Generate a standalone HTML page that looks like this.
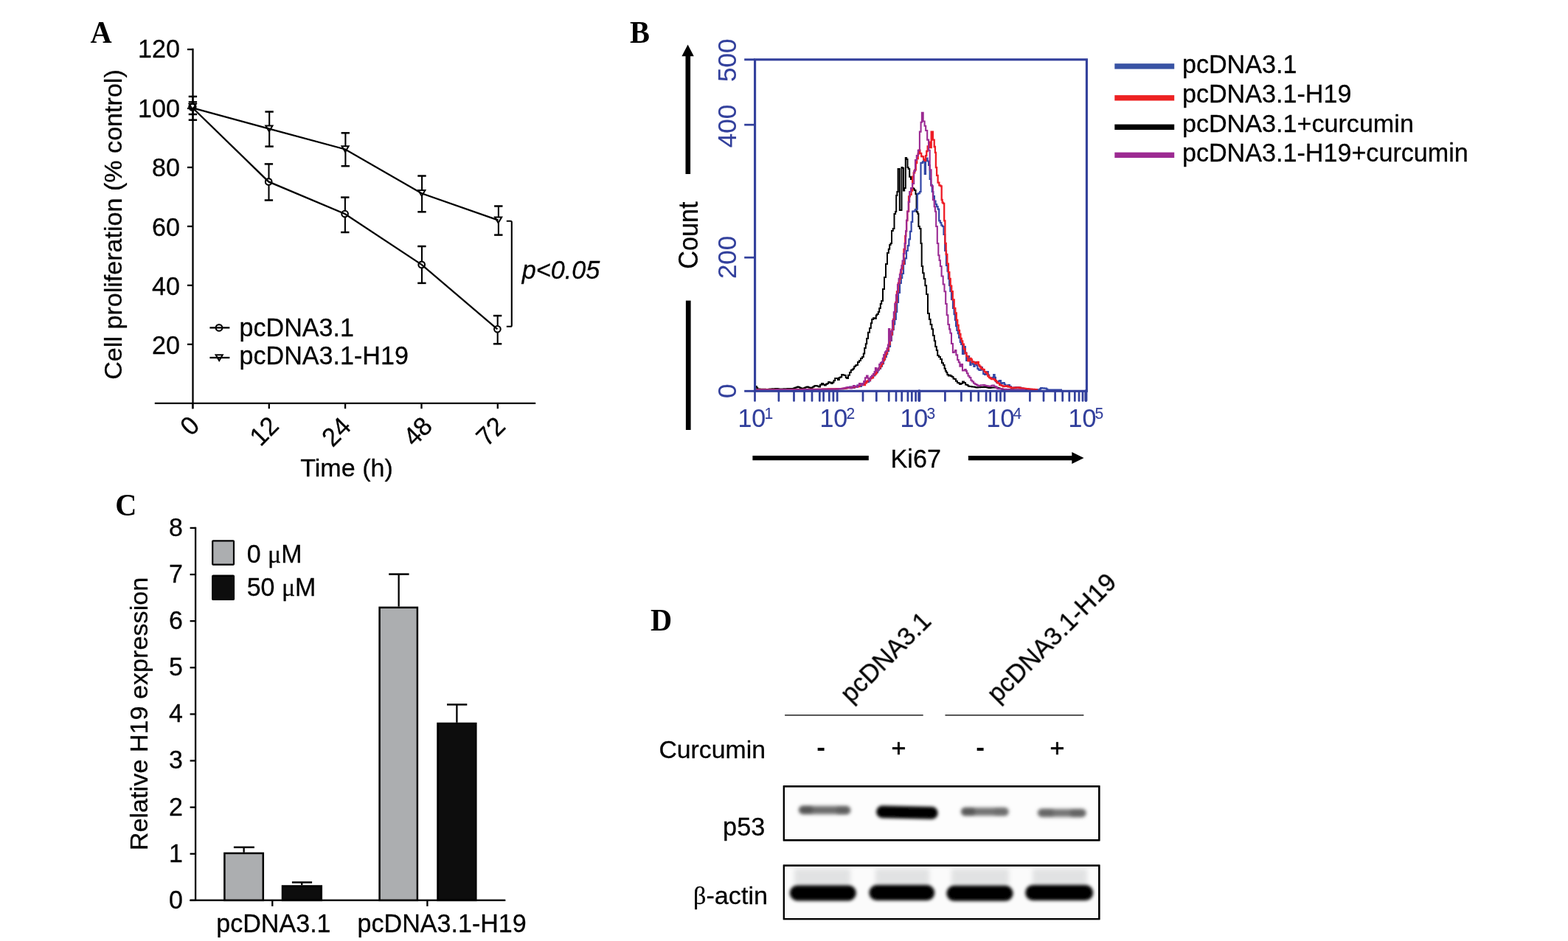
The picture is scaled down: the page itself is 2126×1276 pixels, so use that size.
<!DOCTYPE html>
<html lang="en">
<head>
<meta charset="utf-8">
<title>Figure: H19 and curcumin</title>
<style>
html,body{margin:0;padding:0;background:#fff;}
body{width:2126px;height:1276px;overflow:hidden;}
svg{display:block;}
text{white-space:pre;}
</style>
</head>
<body>
<svg width="2126" height="1276" viewBox="0 0 2126 1276">
<defs><filter id="soft" filterUnits="userSpaceOnUse" x="0" y="0" width="2126" height="1276"><feGaussianBlur stdDeviation="0.42"/></filter></defs>
<rect x="0" y="0" width="2126" height="1276" fill="#fff"/>
<g filter="url(#soft)">
<text transform="translate(122.40 58.00) scale(0.9500 1.0000)" font-family="'Liberation Serif', 'Times New Roman', Times, serif" font-size="42.5" font-weight="bold" font-style="normal" text-anchor="start" fill="#000">A</text>
<line x1="261.50" y1="65.85" x2="261.50" y2="554.20" stroke="#000" stroke-width="2.3" stroke-linecap="butt"/>
<line x1="209.80" y1="546.90" x2="726.20" y2="546.90" stroke="#000" stroke-width="2.3" stroke-linecap="butt"/>
<line x1="254.00" y1="67.00" x2="261.50" y2="67.00" stroke="#000" stroke-width="2.3" stroke-linecap="butt"/>
<text transform="translate(243.90 78.30) scale(1.0000 1.0350)" font-family="'Liberation Sans', Arial, Helvetica, sans-serif" font-size="34.1" font-weight="normal" font-style="normal" text-anchor="end" fill="#000" stroke="#000" stroke-width="0.28" stroke-linejoin="round">120</text>
<line x1="254.00" y1="146.98" x2="261.50" y2="146.98" stroke="#000" stroke-width="2.3" stroke-linecap="butt"/>
<text transform="translate(243.90 158.70) scale(1.0000 1.0350)" font-family="'Liberation Sans', Arial, Helvetica, sans-serif" font-size="34.1" font-weight="normal" font-style="normal" text-anchor="end" fill="#000" stroke="#000" stroke-width="0.28" stroke-linejoin="round">100</text>
<line x1="254.00" y1="226.97" x2="261.50" y2="226.97" stroke="#000" stroke-width="2.3" stroke-linecap="butt"/>
<text transform="translate(243.90 239.10) scale(1.0000 1.0350)" font-family="'Liberation Sans', Arial, Helvetica, sans-serif" font-size="34.1" font-weight="normal" font-style="normal" text-anchor="end" fill="#000" stroke="#000" stroke-width="0.28" stroke-linejoin="round">80</text>
<line x1="254.00" y1="306.95" x2="261.50" y2="306.95" stroke="#000" stroke-width="2.3" stroke-linecap="butt"/>
<text transform="translate(243.90 319.50) scale(1.0000 1.0350)" font-family="'Liberation Sans', Arial, Helvetica, sans-serif" font-size="34.1" font-weight="normal" font-style="normal" text-anchor="end" fill="#000" stroke="#000" stroke-width="0.28" stroke-linejoin="round">60</text>
<line x1="254.00" y1="386.93" x2="261.50" y2="386.93" stroke="#000" stroke-width="2.3" stroke-linecap="butt"/>
<text transform="translate(243.90 399.90) scale(1.0000 1.0350)" font-family="'Liberation Sans', Arial, Helvetica, sans-serif" font-size="34.1" font-weight="normal" font-style="normal" text-anchor="end" fill="#000" stroke="#000" stroke-width="0.28" stroke-linejoin="round">40</text>
<line x1="254.00" y1="466.92" x2="261.50" y2="466.92" stroke="#000" stroke-width="2.3" stroke-linecap="butt"/>
<text transform="translate(243.90 480.30) scale(1.0000 1.0350)" font-family="'Liberation Sans', Arial, Helvetica, sans-serif" font-size="34.1" font-weight="normal" font-style="normal" text-anchor="end" fill="#000" stroke="#000" stroke-width="0.28" stroke-linejoin="round">20</text>
<line x1="261.20" y1="546.90" x2="261.20" y2="554.20" stroke="#000" stroke-width="2.3" stroke-linecap="butt"/>
<text transform="translate(272.50 579.00) rotate(-45) scale(1.0000 1.0350)" font-family="'Liberation Sans', Arial, Helvetica, sans-serif" font-size="34.1" font-weight="normal" font-style="normal" text-anchor="end" fill="#000" stroke="#000" stroke-width="0.28" stroke-linejoin="round">0</text>
<line x1="364.80" y1="546.90" x2="364.80" y2="554.20" stroke="#000" stroke-width="2.3" stroke-linecap="butt"/>
<text transform="translate(380.00 579.70) rotate(-45) scale(1.0000 1.0350)" font-family="'Liberation Sans', Arial, Helvetica, sans-serif" font-size="34.1" font-weight="normal" font-style="normal" text-anchor="end" fill="#000" stroke="#000" stroke-width="0.28" stroke-linejoin="round">12</text>
<line x1="468.10" y1="546.90" x2="468.10" y2="554.20" stroke="#000" stroke-width="2.3" stroke-linecap="butt"/>
<text transform="translate(477.80 580.70) rotate(-45) scale(1.0000 1.0350)" font-family="'Liberation Sans', Arial, Helvetica, sans-serif" font-size="34.1" font-weight="normal" font-style="normal" text-anchor="end" fill="#000" stroke="#000" stroke-width="0.28" stroke-linejoin="round">24</text>
<line x1="571.50" y1="546.90" x2="571.50" y2="554.20" stroke="#000" stroke-width="2.3" stroke-linecap="butt"/>
<text transform="translate(588.20 580.00) rotate(-45) scale(1.0000 1.0350)" font-family="'Liberation Sans', Arial, Helvetica, sans-serif" font-size="34.1" font-weight="normal" font-style="normal" text-anchor="end" fill="#000" stroke="#000" stroke-width="0.28" stroke-linejoin="round">48</text>
<line x1="674.80" y1="546.90" x2="674.80" y2="554.20" stroke="#000" stroke-width="2.3" stroke-linecap="butt"/>
<text transform="translate(687.10 580.00) rotate(-45) scale(1.0000 1.0350)" font-family="'Liberation Sans', Arial, Helvetica, sans-serif" font-size="34.1" font-weight="normal" font-style="normal" text-anchor="end" fill="#000" stroke="#000" stroke-width="0.28" stroke-linejoin="round">72</text>
<text transform="translate(164.90 304.50) rotate(-90) scale(1.0000 0.9775)" font-family="'Liberation Sans', Arial, Helvetica, sans-serif" font-size="34.1" font-weight="normal" font-style="normal" text-anchor="middle" fill="#000" stroke="#000" stroke-width="0.28" stroke-linejoin="round">Cell proliferation (% control)</text>
<text transform="translate(407.22 645.70) scale(1.0000 0.9870)" font-family="'Liberation Sans', Arial, Helvetica, sans-serif" font-size="34.1" font-weight="normal" font-style="normal" text-anchor="start" fill="#000" stroke="#000" stroke-width="0.28" stroke-linejoin="round">Time (h)</text>
<line x1="261.50" y1="130.90" x2="261.50" y2="162.70" stroke="#000" stroke-width="2.1" stroke-linecap="butt"/>
<line x1="255.70" y1="130.90" x2="267.10" y2="130.90" stroke="#000" stroke-width="2.5" stroke-linecap="butt"/>
<line x1="255.70" y1="162.70" x2="267.10" y2="162.70" stroke="#000" stroke-width="2.5" stroke-linecap="butt"/>
<line x1="364.50" y1="222.40" x2="364.50" y2="271.50" stroke="#000" stroke-width="2.1" stroke-linecap="butt"/>
<line x1="358.70" y1="222.40" x2="370.10" y2="222.40" stroke="#000" stroke-width="2.5" stroke-linecap="butt"/>
<line x1="358.70" y1="271.50" x2="370.10" y2="271.50" stroke="#000" stroke-width="2.5" stroke-linecap="butt"/>
<line x1="467.90" y1="267.60" x2="467.90" y2="315.00" stroke="#000" stroke-width="2.1" stroke-linecap="butt"/>
<line x1="462.10" y1="267.60" x2="473.50" y2="267.60" stroke="#000" stroke-width="2.5" stroke-linecap="butt"/>
<line x1="462.10" y1="315.00" x2="473.50" y2="315.00" stroke="#000" stroke-width="2.5" stroke-linecap="butt"/>
<line x1="572.00" y1="334.00" x2="572.00" y2="383.90" stroke="#000" stroke-width="2.1" stroke-linecap="butt"/>
<line x1="566.20" y1="334.00" x2="577.60" y2="334.00" stroke="#000" stroke-width="2.5" stroke-linecap="butt"/>
<line x1="566.20" y1="383.90" x2="577.60" y2="383.90" stroke="#000" stroke-width="2.5" stroke-linecap="butt"/>
<line x1="674.70" y1="428.10" x2="674.70" y2="466.30" stroke="#000" stroke-width="2.1" stroke-linecap="butt"/>
<line x1="668.90" y1="428.10" x2="680.30" y2="428.10" stroke="#000" stroke-width="2.5" stroke-linecap="butt"/>
<line x1="668.90" y1="466.30" x2="680.30" y2="466.30" stroke="#000" stroke-width="2.5" stroke-linecap="butt"/>
<line x1="261.50" y1="138.40" x2="261.50" y2="155.00" stroke="#000" stroke-width="2.1" stroke-linecap="butt"/>
<line x1="255.70" y1="138.40" x2="267.10" y2="138.40" stroke="#000" stroke-width="2.5" stroke-linecap="butt"/>
<line x1="255.70" y1="155.00" x2="267.10" y2="155.00" stroke="#000" stroke-width="2.5" stroke-linecap="butt"/>
<line x1="365.20" y1="151.50" x2="365.20" y2="198.60" stroke="#000" stroke-width="2.1" stroke-linecap="butt"/>
<line x1="359.40" y1="151.50" x2="370.80" y2="151.50" stroke="#000" stroke-width="2.5" stroke-linecap="butt"/>
<line x1="359.40" y1="198.60" x2="370.80" y2="198.60" stroke="#000" stroke-width="2.5" stroke-linecap="butt"/>
<line x1="468.40" y1="180.30" x2="468.40" y2="225.20" stroke="#000" stroke-width="2.1" stroke-linecap="butt"/>
<line x1="462.60" y1="180.30" x2="474.00" y2="180.30" stroke="#000" stroke-width="2.5" stroke-linecap="butt"/>
<line x1="462.60" y1="225.20" x2="474.00" y2="225.20" stroke="#000" stroke-width="2.5" stroke-linecap="butt"/>
<line x1="572.10" y1="238.50" x2="572.10" y2="287.30" stroke="#000" stroke-width="2.1" stroke-linecap="butt"/>
<line x1="566.30" y1="238.50" x2="577.70" y2="238.50" stroke="#000" stroke-width="2.5" stroke-linecap="butt"/>
<line x1="566.30" y1="287.30" x2="577.70" y2="287.30" stroke="#000" stroke-width="2.5" stroke-linecap="butt"/>
<line x1="675.90" y1="279.50" x2="675.90" y2="318.60" stroke="#000" stroke-width="2.1" stroke-linecap="butt"/>
<line x1="670.10" y1="279.50" x2="681.50" y2="279.50" stroke="#000" stroke-width="2.5" stroke-linecap="butt"/>
<line x1="670.10" y1="318.60" x2="681.50" y2="318.60" stroke="#000" stroke-width="2.5" stroke-linecap="butt"/>
<path d="M256.6 140.9 L265.8 140.9 L261.2 148.7 Z" fill="#fff" stroke="#000" stroke-width="2" stroke-linejoin="miter"/>
<path d="M360.3 170.4 L369.5 170.4 L364.9 178.2 Z" fill="#fff" stroke="#000" stroke-width="2" stroke-linejoin="miter"/>
<path d="M463.5 198.3 L472.7 198.3 L468.1 206.1 Z" fill="#fff" stroke="#000" stroke-width="2" stroke-linejoin="miter"/>
<path d="M567.2 258.1 L576.4 258.1 L571.8 265.9 Z" fill="#fff" stroke="#000" stroke-width="2" stroke-linejoin="miter"/>
<path d="M671.0 294.4 L680.2 294.4 L675.6 302.2 Z" fill="#fff" stroke="#000" stroke-width="2" stroke-linejoin="miter"/>
<circle cx="260.9" cy="145.1" r="4.4" fill="none" stroke="#000" stroke-width="2.6"/>
<circle cx="364.2" cy="246.4" r="4.3" fill="#fff" stroke="#000" stroke-width="2.1"/>
<circle cx="467.6" cy="290.0" r="4.3" fill="#fff" stroke="#000" stroke-width="2.1"/>
<circle cx="571.7" cy="358.9" r="4.3" fill="#fff" stroke="#000" stroke-width="2.1"/>
<circle cx="674.4" cy="446.3" r="4.3" fill="#fff" stroke="#000" stroke-width="2.1"/>
<path d="M261.2 146.3 L364.9 174.6 L468.1 202.5 L571.8 262.3 L675.6 298.6" fill="none" stroke="#000" stroke-width="2.3" stroke-linejoin="miter" stroke-linecap="butt"/>
<path d="M261.2 146.3 L364.2 246.4 L467.6 290.0 L571.7 358.9 L674.4 446.3" fill="none" stroke="#000" stroke-width="2.3" stroke-linejoin="miter" stroke-linecap="butt"/>
<circle cx="297.0" cy="444.4" r="4.3" fill="#fff" stroke="#000" stroke-width="2.1"/>
<line x1="284.40" y1="444.40" x2="311.40" y2="444.40" stroke="#000" stroke-width="2.3" stroke-linecap="butt"/>
<path d="M292.6 481.2 L301.8 481.2 L297.2 489.0 Z" fill="#fff" stroke="#000" stroke-width="2" stroke-linejoin="miter"/>
<line x1="284.40" y1="485.00" x2="311.40" y2="485.00" stroke="#000" stroke-width="2.3" stroke-linecap="butt"/>
<text transform="translate(324.61 456.10) scale(1.0000 1.0179)" font-family="'Liberation Sans', Arial, Helvetica, sans-serif" font-size="34.1" font-weight="normal" font-style="normal" text-anchor="start" fill="#000" stroke="#000" stroke-width="0.28" stroke-linejoin="round">pcDNA3.1</text>
<text transform="translate(324.61 493.90) scale(1.0000 1.0230)" font-family="'Liberation Sans', Arial, Helvetica, sans-serif" font-size="34.1" font-weight="normal" font-style="normal" text-anchor="start" fill="#000" stroke="#000" stroke-width="0.28" stroke-linejoin="round">pcDNA3.1-H19</text>
<path d="M686.8 299.8 H692.3 Q693.8 299.8 693.8 301.3 V441.3 Q693.8 442.8 692.3 442.8 H686.8" fill="none" stroke="#000" stroke-width="2.1"/>
<text transform="translate(707.68 377.50) scale(1.0000 1.0200)" font-family="'Liberation Sans', Arial, Helvetica, sans-serif" font-size="34.2" font-weight="normal" font-style="italic" text-anchor="start" fill="#000" stroke="#000" stroke-width="0.28" stroke-linejoin="round">p&lt;0.05</text>
<text transform="translate(854.00 57.60) scale(0.9500 1.0000)" font-family="'Liberation Serif', 'Times New Roman', Times, serif" font-size="42.5" font-weight="bold" font-style="normal" text-anchor="start" fill="#000">B</text>
<path d="M929.5 236 V76.2 H924.4 L932.6 60.6 L940.8 76.2 H936.1 V236 Z" fill="#000"/>
<rect x="929.9" y="407.6" width="6.7" height="175.4" fill="#000"/>
<rect x="1020.4" y="617.9" width="157.4" height="6.3" fill="#000"/>
<path d="M1312.9 617.9 H1453.3 V613 L1469.6 621 L1453.3 629.1 V624.2 H1312.9 Z" fill="#000"/>
<text transform="translate(946.00 319.20) rotate(-90) scale(1.0000 1.0800)" font-family="'Liberation Sans', Arial, Helvetica, sans-serif" font-size="34.2" font-weight="normal" font-style="normal" text-anchor="middle" fill="#000" stroke="#000" stroke-width="0.28" stroke-linejoin="round">Count</text>
<text transform="translate(1207.56 633.80) scale(1.0000 1.0200)" font-family="'Liberation Sans', Arial, Helvetica, sans-serif" font-size="34.2" font-weight="normal" font-style="normal" text-anchor="start" fill="#000" stroke="#000" stroke-width="0.28" stroke-linejoin="round">Ki67</text>
<path d="M1025.0 524.0 L1025.8 524.0 L1025.8 525.7 L1026.5 525.7 L1027.2 525.7 L1027.2 527.5 L1028.0 527.5 L1028.8 527.5 L1028.8 527.6 L1029.5 527.6 L1030.2 527.6 L1030.2 527.7 L1031.0 527.7 L1031.8 527.7 L1031.8 527.7 L1032.5 527.7 L1033.2 527.7 L1033.2 527.8 L1034.0 527.8 L1034.8 527.8 L1034.8 527.8 L1035.5 527.8 L1036.2 527.8 L1036.2 527.8 L1037.0 527.8 L1037.8 527.8 L1037.8 527.9 L1038.5 527.9 L1039.2 527.9 L1039.2 528.0 L1040.0 528.0 L1040.8 528.0 L1040.8 527.9 L1041.5 527.9 L1042.2 527.9 L1042.2 527.8 L1043.0 527.8 L1043.8 527.8 L1043.8 527.6 L1044.5 527.6 L1045.2 527.6 L1045.2 527.5 L1046.0 527.5 L1046.8 527.5 L1046.8 527.3 L1047.5 527.3 L1048.2 527.3 L1048.2 527.3 L1049.0 527.3 L1049.8 527.3 L1049.8 527.2 L1050.5 527.2 L1051.2 527.2 L1051.2 527.0 L1052.0 527.0 L1052.8 527.0 L1052.8 527.0 L1053.6 527.0 L1054.4 527.0 L1054.4 527.3 L1055.2 527.3 L1056.0 527.3 L1056.0 527.4 L1056.8 527.4 L1057.6 527.4 L1057.6 527.4 L1058.4 527.4 L1059.2 527.4 L1059.2 527.5 L1060.0 527.5 L1060.8 527.5 L1060.8 527.5 L1061.7 527.5 L1062.5 527.5 L1062.5 527.3 L1063.3 527.3 L1064.2 527.3 L1064.2 527.2 L1065.0 527.2 L1065.8 527.2 L1065.8 527.3 L1066.7 527.3 L1067.5 527.3 L1067.5 527.1 L1068.3 527.1 L1069.2 527.1 L1069.2 527.1 L1070.0 527.1 L1070.8 527.1 L1070.8 527.0 L1071.7 527.0 L1072.5 527.0 L1072.5 526.9 L1073.3 526.9 L1074.2 526.9 L1074.2 527.0 L1075.0 527.0 L1075.9 527.0 L1075.9 526.4 L1076.8 526.4 L1077.6 526.4 L1077.6 525.7 L1078.5 525.7 L1079.4 525.7 L1079.4 525.3 L1080.2 525.3 L1081.1 525.3 L1081.1 524.5 L1082.0 524.5 L1082.8 524.5 L1082.8 525.1 L1083.5 525.1 L1084.2 525.1 L1084.2 525.8 L1085.0 525.8 L1085.8 525.8 L1085.8 526.4 L1086.5 526.4 L1087.2 526.4 L1087.2 527.0 L1088.0 527.0 L1088.9 527.0 L1088.9 526.4 L1089.8 526.4 L1090.6 526.4 L1090.6 525.7 L1091.5 525.7 L1092.4 525.7 L1092.4 525.0 L1093.2 525.0 L1094.1 525.0 L1094.1 524.5 L1095.0 524.5 L1095.8 524.5 L1095.8 525.3 L1096.7 525.3 L1097.5 525.3 L1097.5 525.8 L1098.3 525.8 L1099.2 525.8 L1099.2 526.0 L1100.0 526.0 L1100.8 526.0 L1100.8 525.4 L1101.5 525.4 L1102.2 525.4 L1102.2 524.6 L1103.0 524.6 L1103.8 524.6 L1103.8 523.6 L1104.5 523.6 L1105.2 523.6 L1105.2 523.0 L1106.0 523.0 L1106.8 523.0 L1106.8 523.3 L1107.7 523.3 L1108.5 523.3 L1108.5 523.8 L1109.3 523.8 L1110.2 523.8 L1110.2 524.5 L1111.0 524.5 L1112.0 524.5 L1112.0 521.8 L1113.0 521.8 L1114.0 521.8 L1114.0 520.0 L1115.0 520.0 L1116.0 520.0 L1116.0 521.6 L1117.0 521.6 L1118.0 521.6 L1118.0 522.5 L1119.0 522.5 L1119.8 522.5 L1119.8 520.9 L1120.7 520.9 L1121.5 520.9 L1121.5 520.1 L1122.3 520.1 L1123.2 520.1 L1123.2 518.0 L1124.0 518.0 L1125.0 518.0 L1125.0 518.8 L1126.0 518.8 L1127.0 518.8 L1127.0 520.0 L1128.0 520.0 L1128.8 520.0 L1128.8 518.5 L1129.7 518.5 L1130.5 518.5 L1130.5 516.0 L1131.3 516.0 L1132.2 516.0 L1132.2 513.0 L1133.0 513.0 L1134.0 513.0 L1134.0 513.0 L1135.0 513.0 L1136.0 513.0 L1136.0 515.0 L1137.0 515.0 L1137.8 515.0 L1137.8 512.1 L1138.7 512.1 L1139.5 512.1 L1139.5 511.2 L1140.3 511.2 L1141.2 511.2 L1141.2 508.0 L1142.0 508.0 L1143.0 508.0 L1143.0 508.4 L1144.0 508.4 L1145.0 508.4 L1145.0 509.0 L1146.0 509.0 L1146.8 509.0 L1146.8 512.0 L1147.5 512.0 L1148.2 512.0 L1148.2 513.0 L1149.0 513.0 L1150.0 513.0 L1150.0 508.8 L1151.0 508.8 L1152.0 508.8 L1152.0 505.0 L1153.0 505.0 L1153.8 505.0 L1153.8 502.0 L1154.5 502.0 L1155.2 502.0 L1155.2 501.3 L1156.0 501.3 L1156.8 501.3 L1156.8 499.7 L1157.5 499.7 L1158.2 499.7 L1158.2 497.0 L1159.0 497.0 L1159.8 497.0 L1159.8 495.4 L1160.5 495.4 L1161.2 495.4 L1161.2 495.0 L1162.0 495.0 L1163.0 495.0 L1163.0 490.9 L1164.0 490.9 L1165.0 490.9 L1165.0 489.0 L1166.0 489.0 L1167.0 489.0 L1167.0 486.0 L1168.0 486.0 L1169.0 486.0 L1169.0 484.0 L1170.0 484.0 L1170.8 484.0 L1170.8 479.4 L1171.5 479.4 L1172.2 479.4 L1172.2 472.0 L1173.0 472.0 L1173.8 472.0 L1173.8 466.3 L1174.5 466.3 L1175.2 466.3 L1175.2 459.0 L1176.0 459.0 L1177.0 459.0 L1177.0 450.8 L1178.0 450.8 L1179.0 450.8 L1179.0 445.0 L1180.0 445.0 L1180.8 445.0 L1180.8 438.2 L1181.5 438.2 L1182.2 438.2 L1182.2 433.0 L1183.0 433.0 L1184.0 433.0 L1184.0 431.2 L1185.0 431.2 L1186.0 431.2 L1186.0 432.0 L1187.0 432.0 L1187.8 432.0 L1187.8 427.6 L1188.5 427.6 L1189.2 427.6 L1189.2 426.0 L1190.0 426.0 L1190.8 426.0 L1190.8 423.0 L1191.5 423.0 L1192.2 423.0 L1192.2 418.0 L1193.0 418.0 L1193.8 418.0 L1193.8 412.0 L1194.5 412.0 L1195.2 412.0 L1195.2 408.0 L1196.0 408.0 L1197.0 408.0 L1197.0 392.0 L1198.0 392.0 L1199.0 392.0 L1199.0 376.0 L1200.0 376.0 L1201.0 376.0 L1201.0 358.0 L1202.0 358.0 L1203.0 358.0 L1203.0 343.0 L1204.0 343.0 L1204.8 343.0 L1204.8 337.7 L1205.5 337.7 L1206.2 337.7 L1206.2 332.0 L1207.0 332.0 L1207.6 332.0 L1207.6 330.0 L1208.2 330.0 L1209.0 330.0 L1209.0 313.0 L1209.7 313.0 L1210.8 313.0 L1210.8 310.0 L1212.0 310.0 L1212.5 310.0 L1212.5 290.0 L1212.9 290.0 L1214.1 290.0 L1214.1 287.0 L1215.2 287.0 L1215.2 265.0 L1216.4 265.0 L1216.4 260.0 L1217.6 260.0 L1217.6 229.0 L1218.3 229.0 L1218.3 229.0 L1219.0 229.0 L1219.8 229.0 L1219.8 285.0 L1220.7 285.0 L1221.3 285.0 L1221.3 285.0 L1222.0 285.0 L1222.5 285.0 L1222.5 227.0 L1223.0 227.0 L1223.8 227.0 L1223.8 228.0 L1224.5 228.0 L1225.0 228.0 L1225.0 258.5 L1225.4 258.5 L1226.2 258.5 L1226.2 255.0 L1227.0 255.0 L1227.8 255.0 L1227.8 214.0 L1228.5 214.0 L1229.2 214.0 L1229.2 216.0 L1230.0 216.0 L1230.5 216.0 L1230.5 227.0 L1230.9 227.0 L1231.7 227.0 L1231.7 229.0 L1232.5 229.0 L1233.2 229.0 L1233.2 239.7 L1234.0 239.7 L1235.0 239.7 L1235.0 243.0 L1236.0 243.0 L1237.0 243.0 L1237.0 255.0 L1238.0 255.0 L1238.6 255.0 L1238.6 256.3 L1239.2 256.3 L1239.9 256.3 L1239.9 258.0 L1240.5 258.0 L1241.5 258.0 L1241.5 263.0 L1242.6 263.0 L1242.6 286.7 L1243.2 286.7 L1243.2 287.4 L1243.8 287.4 L1244.4 287.4 L1244.4 290.0 L1245.0 290.0 L1245.4 290.0 L1245.4 307.0 L1245.8 307.0 L1246.9 307.0 L1246.9 310.0 L1248.0 310.0 L1248.5 310.0 L1248.5 330.0 L1249.0 330.0 L1249.7 330.0 L1249.7 361.0 L1250.4 361.0 L1251.2 361.0 L1251.2 370.2 L1252.0 370.2 L1252.7 370.2 L1252.7 378.0 L1253.5 378.0 L1254.4 378.0 L1254.4 387.3 L1255.2 387.3 L1256.1 387.3 L1256.1 399.0 L1257.0 399.0 L1258.0 399.0 L1258.0 425.0 L1259.0 425.0 L1259.9 425.0 L1259.9 433.0 L1260.8 433.0 L1261.6 433.0 L1261.6 440.0 L1262.5 440.0 L1263.4 440.0 L1263.4 446.3 L1264.2 446.3 L1265.1 446.3 L1265.1 455.0 L1266.0 455.0 L1266.8 455.0 L1266.8 462.2 L1267.5 462.2 L1268.2 462.2 L1268.2 470.0 L1269.0 470.0 L1269.8 470.0 L1269.8 475.1 L1270.5 475.1 L1271.2 475.1 L1271.2 482.0 L1272.0 482.0 L1273.0 482.0 L1273.0 483.9 L1274.0 483.9 L1275.0 483.9 L1275.0 487.0 L1276.0 487.0 L1277.0 487.0 L1277.0 492.2 L1278.0 492.2 L1279.0 492.2 L1279.0 495.0 L1280.0 495.0 L1280.6 495.0 L1280.6 499.7 L1281.2 499.7 L1281.9 499.7 L1281.9 503.0 L1282.5 503.0 L1283.1 503.0 L1283.1 505.1 L1283.8 505.1 L1284.4 505.1 L1284.4 508.0 L1285.0 508.0 L1285.8 508.0 L1285.8 509.5 L1286.7 509.5 L1287.5 509.5 L1287.5 508.7 L1288.3 508.7 L1289.2 508.7 L1289.2 510.0 L1290.0 510.0 L1290.8 510.0 L1290.8 511.1 L1291.7 511.1 L1292.5 511.1 L1292.5 513.4 L1293.3 513.4 L1294.2 513.4 L1294.2 514.0 L1295.0 514.0 L1296.0 514.0 L1296.0 516.8 L1297.0 516.8 L1298.0 516.8 L1298.0 519.0 L1299.0 519.0 L1299.8 519.0 L1299.8 519.4 L1300.5 519.4 L1301.2 519.4 L1301.2 521.0 L1302.0 521.0 L1303.0 521.0 L1303.0 520.1 L1304.0 520.1 L1305.0 520.1 L1305.0 517.5 L1306.0 517.5 L1307.0 517.5 L1307.0 519.0 L1308.0 519.0 L1309.0 519.0 L1309.0 521.5 L1310.0 521.5 L1310.8 521.5 L1310.8 522.1 L1311.7 522.1 L1312.5 522.1 L1312.5 523.4 L1313.3 523.4 L1314.2 523.4 L1314.2 524.0 L1315.0 524.0 L1315.8 524.0 L1315.8 524.1 L1316.7 524.1 L1317.5 524.1 L1317.5 524.4 L1318.3 524.4 L1319.2 524.4 L1319.2 524.5 L1320.0 524.5 L1320.8 524.5 L1320.8 524.7 L1321.7 524.7 L1322.5 524.7 L1322.5 525.3 L1323.3 525.3 L1324.2 525.3 L1324.2 525.5 L1325.0 525.5 L1325.8 525.5 L1325.8 525.2 L1326.7 525.2 L1327.5 525.2 L1327.5 525.2 L1328.3 525.2 L1329.2 525.2 L1329.2 524.9 L1330.0 524.9 L1330.8 524.9 L1330.8 524.8 L1331.7 524.8 L1332.5 524.8 L1332.5 525.0 L1333.3 525.0 L1334.2 525.0 L1334.2 524.5 L1335.0 524.5 L1335.9 524.5 L1335.9 524.9 L1336.8 524.9 L1337.6 524.9 L1337.6 525.3 L1338.5 525.3 L1339.4 525.3 L1339.4 525.8 L1340.2 525.8 L1341.1 525.8 L1341.1 526.0 L1342.0 526.0 L1342.8 526.0 L1342.8 525.7 L1343.6 525.7 L1344.4 525.7 L1344.4 525.4 L1345.2 525.4 L1346.0 525.4 L1346.0 525.6 L1346.8 525.6 L1347.6 525.6 L1347.6 525.4 L1348.4 525.4 L1349.2 525.4 L1349.2 525.0 L1350.0 525.0 L1350.8 525.0 L1350.8 525.4 L1351.7 525.4 L1352.5 525.4 L1352.5 525.9 L1353.3 525.9 L1354.2 525.9 L1354.2 526.6 L1355.0 526.6 L1355.8 526.6 L1355.8 527.1 L1356.7 527.1 L1357.5 527.1 L1357.5 527.4 L1358.3 527.4 L1359.2 527.4 L1359.2 528.0 L1360.0 528.0 L1360.8 528.0 L1360.8 528.1 L1361.7 528.1 L1362.5 528.1 L1362.5 528.1 L1363.3 528.1 L1364.2 528.1 L1364.2 528.1 L1365.0 528.1 L1365.8 528.1 L1365.8 528.2 L1366.7 528.2 L1367.5 528.2 L1367.5 528.2 L1368.3 528.2 L1369.2 528.2 L1369.2 528.2 L1370.0 528.2 L1370.8 528.2 L1370.8 528.3 L1371.7 528.3 L1372.5 528.3 L1372.5 528.3 L1373.3 528.3 L1374.2 528.3 L1374.2 528.4 L1375.0 528.4 L1375.8 528.4 L1375.8 528.4 L1376.7 528.4 L1377.5 528.4 L1377.5 528.5 L1378.3 528.5 L1379.2 528.5 L1379.2 528.5 L1380.0 528.5 L1380.8 528.5 L1380.8 528.5 L1381.7 528.5 L1382.5 528.5 L1382.5 528.5 L1383.3 528.5 L1384.2 528.5 L1384.2 528.5 L1385.0 528.5 L1385.8 528.5 L1385.8 528.5 L1386.7 528.5 L1387.5 528.5 L1387.5 528.5 L1388.3 528.5 L1389.2 528.5 L1389.2 528.5 L1390.0 528.5 L1390.8 528.5 L1390.8 528.6 L1391.7 528.6 L1392.5 528.6 L1392.5 528.6 L1393.3 528.6 L1394.2 528.6 L1394.2 528.6 L1395.0 528.6 L1395.8 528.6 L1395.8 528.6 L1396.7 528.6 L1397.5 528.6 L1397.5 528.6 L1398.3 528.6 L1399.2 528.6 L1399.2 528.6 L1400.0 528.6" fill="none" stroke="#000" stroke-width="2.0" stroke-linejoin="miter" stroke-linecap="butt"/>
<path d="M1025.0 528.6 L1025.8 528.6 L1025.8 528.6 L1026.6 528.6 L1027.4 528.6 L1027.4 528.6 L1028.2 528.6 L1029.0 528.6 L1029.0 528.6 L1029.8 528.6 L1030.6 528.6 L1030.6 528.6 L1031.4 528.6 L1032.2 528.6 L1032.2 528.6 L1033.0 528.6 L1033.8 528.6 L1033.8 528.6 L1034.5 528.6 L1035.3 528.6 L1035.3 528.6 L1036.1 528.6 L1036.9 528.6 L1036.9 528.6 L1037.7 528.6 L1038.5 528.6 L1038.5 528.6 L1039.3 528.6 L1040.1 528.6 L1040.1 528.6 L1040.9 528.6 L1041.7 528.6 L1041.7 528.5 L1042.5 528.5 L1043.3 528.5 L1043.3 528.5 L1044.1 528.5 L1044.9 528.5 L1044.9 528.5 L1045.7 528.5 L1046.5 528.5 L1046.5 528.5 L1047.3 528.5 L1048.1 528.5 L1048.1 528.5 L1048.9 528.5 L1049.7 528.5 L1049.7 528.5 L1050.5 528.5 L1051.2 528.5 L1051.2 528.5 L1052.0 528.5 L1052.8 528.5 L1052.8 528.5 L1053.6 528.5 L1054.4 528.5 L1054.4 528.5 L1055.2 528.5 L1056.0 528.5 L1056.0 528.5 L1056.8 528.5 L1057.6 528.5 L1057.6 528.5 L1058.4 528.5 L1059.2 528.5 L1059.2 528.5 L1060.0 528.5 L1060.8 528.5 L1060.8 528.5 L1061.6 528.5 L1062.4 528.5 L1062.4 528.5 L1063.2 528.5 L1064.0 528.5 L1064.0 528.5 L1064.8 528.5 L1065.6 528.5 L1065.6 528.5 L1066.4 528.5 L1067.2 528.5 L1067.2 528.4 L1068.0 528.4 L1068.8 528.4 L1068.8 528.4 L1069.6 528.4 L1070.4 528.4 L1070.4 528.4 L1071.2 528.4 L1072.0 528.4 L1072.0 528.4 L1072.8 528.4 L1073.6 528.4 L1073.6 528.4 L1074.4 528.4 L1075.2 528.4 L1075.2 528.4 L1076.0 528.4 L1076.8 528.4 L1076.8 528.4 L1077.6 528.4 L1078.4 528.4 L1078.4 528.4 L1079.2 528.4 L1080.0 528.4 L1080.0 528.4 L1080.8 528.4 L1081.6 528.4 L1081.6 528.3 L1082.4 528.3 L1083.2 528.3 L1083.2 528.3 L1084.0 528.3 L1084.8 528.3 L1084.8 528.3 L1085.6 528.3 L1086.4 528.3 L1086.4 528.3 L1087.2 528.3 L1088.0 528.3 L1088.0 528.3 L1088.8 528.3 L1089.6 528.3 L1089.6 528.3 L1090.4 528.3 L1091.2 528.3 L1091.2 528.3 L1092.0 528.3 L1092.8 528.3 L1092.8 528.2 L1093.6 528.2 L1094.4 528.2 L1094.4 528.2 L1095.2 528.2 L1096.0 528.2 L1096.0 528.2 L1096.8 528.2 L1097.6 528.2 L1097.6 528.2 L1098.4 528.2 L1099.2 528.2 L1099.2 528.2 L1100.0 528.2 L1100.8 528.2 L1100.8 528.2 L1101.6 528.2 L1102.4 528.2 L1102.4 528.2 L1103.2 528.2 L1103.9 528.2 L1103.9 528.2 L1104.7 528.2 L1105.5 528.2 L1105.5 528.1 L1106.3 528.1 L1107.1 528.1 L1107.1 528.1 L1107.9 528.1 L1108.7 528.1 L1108.7 528.1 L1109.5 528.1 L1110.3 528.1 L1110.3 528.0 L1111.1 528.0 L1111.8 528.0 L1111.8 528.1 L1112.6 528.1 L1113.4 528.1 L1113.4 528.0 L1114.2 528.0 L1115.0 528.0 L1115.0 528.0 L1115.8 528.0 L1116.6 528.0 L1116.6 527.9 L1117.4 527.9 L1118.2 527.9 L1118.2 528.0 L1118.9 528.0 L1119.7 528.0 L1119.7 527.9 L1120.5 527.9 L1121.3 527.9 L1121.3 527.9 L1122.1 527.9 L1122.9 527.9 L1122.9 527.9 L1123.7 527.9 L1124.5 527.9 L1124.5 527.9 L1125.3 527.9 L1126.1 527.9 L1126.1 527.9 L1126.8 527.9 L1127.6 527.9 L1127.6 527.8 L1128.4 527.8 L1129.2 527.8 L1129.2 527.8 L1130.0 527.8 L1130.8 527.8 L1130.8 527.8 L1131.7 527.8 L1132.5 527.8 L1132.5 527.6 L1133.3 527.6 L1134.2 527.6 L1134.2 527.6 L1135.0 527.6 L1135.8 527.6 L1135.8 527.4 L1136.7 527.4 L1137.5 527.4 L1137.5 527.3 L1138.3 527.3 L1139.2 527.3 L1139.2 527.2 L1140.0 527.2 L1140.8 527.2 L1140.8 527.2 L1141.7 527.2 L1142.5 527.2 L1142.5 527.1 L1143.3 527.1 L1144.2 527.1 L1144.2 527.0 L1145.0 527.0 L1145.8 527.0 L1145.8 526.7 L1146.6 526.7 L1147.4 526.7 L1147.4 526.1 L1148.2 526.1 L1149.0 526.1 L1149.0 525.7 L1149.8 525.7 L1150.6 525.7 L1150.6 525.0 L1151.4 525.0 L1152.2 525.0 L1152.2 524.5 L1153.0 524.5 L1153.8 524.5 L1153.8 525.3 L1154.7 525.3 L1155.5 525.3 L1155.5 525.6 L1156.3 525.6 L1157.2 525.6 L1157.2 526.0 L1158.0 526.0 L1158.8 526.0 L1158.8 524.7 L1159.7 524.7 L1160.5 524.7 L1160.5 524.1 L1161.3 524.1 L1162.2 524.1 L1162.2 522.5 L1163.0 522.5 L1164.0 522.5 L1164.0 523.1 L1165.0 523.1 L1166.0 523.1 L1166.0 524.0 L1167.0 524.0 L1167.8 524.0 L1167.8 522.2 L1168.7 522.2 L1169.5 522.2 L1169.5 520.4 L1170.3 520.4 L1171.2 520.4 L1171.2 519.5 L1172.0 519.5 L1172.8 519.5 L1172.8 518.9 L1173.7 518.9 L1174.5 518.9 L1174.5 517.9 L1175.3 517.9 L1176.2 517.9 L1176.2 518.0 L1177.0 518.0 L1178.0 518.0 L1178.0 516.3 L1179.0 516.3 L1180.0 516.3 L1180.0 513.0 L1181.0 513.0 L1182.0 513.0 L1182.0 512.2 L1183.0 512.2 L1184.0 512.2 L1184.0 509.5 L1185.0 509.5 L1186.0 509.5 L1186.0 506.6 L1187.0 506.6 L1188.0 506.6 L1188.0 505.0 L1189.0 505.0 L1190.0 505.0 L1190.0 501.6 L1191.0 501.6 L1192.0 501.6 L1192.0 500.0 L1193.0 500.0 L1194.0 500.0 L1194.0 496.6 L1195.0 496.6 L1196.0 496.6 L1196.0 493.0 L1197.0 493.0 L1198.0 493.0 L1198.0 487.6 L1199.0 487.6 L1200.0 487.6 L1200.0 484.0 L1201.0 484.0 L1201.8 484.0 L1201.8 480.1 L1202.5 480.1 L1203.2 480.1 L1203.2 476.0 L1204.0 476.0 L1205.0 476.0 L1205.0 470.0 L1206.0 470.0 L1207.0 470.0 L1207.0 462.0 L1208.0 462.0 L1208.8 462.0 L1208.8 453.7 L1209.5 453.7 L1210.2 453.7 L1210.2 447.0 L1211.0 447.0 L1211.8 447.0 L1211.8 439.7 L1212.5 439.7 L1213.2 439.7 L1213.2 433.0 L1214.0 433.0 L1214.8 433.0 L1214.8 422.8 L1215.5 422.8 L1216.2 422.8 L1216.2 410.0 L1217.0 410.0 L1218.0 410.0 L1218.0 396.8 L1219.0 396.8 L1220.0 396.8 L1220.0 384.0 L1221.0 384.0 L1221.8 384.0 L1221.8 377.0 L1222.5 377.0 L1223.2 377.0 L1223.2 371.0 L1224.0 371.0 L1225.0 371.0 L1225.0 358.0 L1226.0 358.0 L1227.0 358.0 L1227.0 350.3 L1228.0 350.3 L1229.0 350.3 L1229.0 340.0 L1230.0 340.0 L1230.8 340.0 L1230.8 333.2 L1231.6 333.2 L1232.4 333.2 L1232.4 324.4 L1233.2 324.4 L1234.0 324.4 L1234.0 313.9 L1234.8 313.9 L1235.6 313.9 L1235.6 300.8 L1236.4 300.8 L1237.2 300.8 L1237.2 286.7 L1237.9 286.7 L1238.8 286.7 L1238.8 286.3 L1239.7 286.3 L1240.7 286.3 L1240.7 284.4 L1241.6 284.4 L1242.5 284.4 L1242.5 283.6 L1243.4 283.6 L1243.8 283.6 L1243.8 263.2 L1244.2 263.2 L1245.2 263.2 L1245.2 262.2 L1246.2 262.2 L1247.1 262.2 L1247.1 260.0 L1248.1 260.0 L1248.5 260.0 L1248.5 220.9 L1248.9 220.9 L1249.6 220.9 L1249.6 221.0 L1250.3 221.0 L1251.0 221.0 L1251.0 219.4 L1251.6 219.4 L1252.3 219.4 L1252.3 218.0 L1253.0 218.0 L1253.8 218.0 L1253.8 236.0 L1254.5 236.0 L1255.0 236.0 L1255.0 218.0 L1255.5 218.0 L1256.1 218.0 L1256.1 214.6 L1256.7 214.6 L1257.5 214.6 L1257.5 218.5 L1258.3 218.5 L1259.1 218.5 L1259.1 224.0 L1259.9 224.0 L1260.7 224.0 L1260.7 242.9 L1261.4 242.9 L1262.2 242.9 L1262.2 250.8 L1263.0 250.8 L1263.8 250.8 L1263.8 260.0 L1264.6 260.0 L1265.4 260.0 L1265.4 266.0 L1266.2 266.0 L1266.9 266.0 L1266.9 272.6 L1267.7 272.6 L1268.5 272.6 L1268.5 277.1 L1269.3 277.1 L1270.1 277.1 L1270.1 280.1 L1270.8 280.1 L1271.6 280.1 L1271.6 283.6 L1272.4 283.6 L1273.2 283.6 L1273.2 299.3 L1274.0 299.3 L1274.8 299.3 L1274.8 302.0 L1275.6 302.0 L1276.3 302.0 L1276.3 305.5 L1277.1 305.5 L1277.9 305.5 L1277.9 307.0 L1278.7 307.0 L1279.5 307.0 L1279.5 318.0 L1280.3 318.0 L1281.2 318.0 L1281.2 340.0 L1282.0 340.0 L1283.0 340.0 L1283.0 360.0 L1284.0 360.0 L1284.6 360.0 L1284.6 367.7 L1285.2 367.7 L1285.9 367.7 L1285.9 378.0 L1286.5 378.0 L1287.1 378.0 L1287.1 386.9 L1287.8 386.9 L1288.4 386.9 L1288.4 395.0 L1289.0 395.0 L1290.0 395.0 L1290.0 406.0 L1291.0 406.0 L1292.0 406.0 L1292.0 418.0 L1293.0 418.0 L1293.6 418.0 L1293.6 426.2 L1294.2 426.2 L1294.9 426.2 L1294.9 434.0 L1295.5 434.0 L1296.1 434.0 L1296.1 442.1 L1296.8 442.1 L1297.4 442.1 L1297.4 448.0 L1298.0 448.0 L1298.8 448.0 L1298.8 452.2 L1299.5 452.2 L1300.2 452.2 L1300.2 458.0 L1301.0 458.0 L1301.8 458.0 L1301.8 463.9 L1302.5 463.9 L1303.2 463.9 L1303.2 467.0 L1304.0 467.0 L1305.0 467.0 L1305.0 480.0 L1306.0 480.0 L1307.0 480.0 L1307.0 470.0 L1308.0 470.0 L1308.8 470.0 L1308.8 478.3 L1309.5 478.3 L1310.2 478.3 L1310.2 489.0 L1311.0 489.0 L1311.6 489.0 L1311.6 486.2 L1312.2 486.2 L1312.9 486.2 L1312.9 483.0 L1313.5 483.0 L1314.1 483.0 L1314.1 489.1 L1314.8 489.1 L1315.4 489.1 L1315.4 495.0 L1316.0 495.0 L1316.6 495.0 L1316.6 491.8 L1317.2 491.8 L1317.9 491.8 L1317.9 490.0 L1318.5 490.0 L1319.1 490.0 L1319.1 493.7 L1319.8 493.7 L1320.4 493.7 L1320.4 497.0 L1321.0 497.0 L1321.6 497.0 L1321.6 493.9 L1322.2 493.9 L1322.9 493.9 L1322.9 491.0 L1323.5 491.0 L1324.1 491.0 L1324.1 495.4 L1324.8 495.4 L1325.4 495.4 L1325.4 500.0 L1326.0 500.0 L1326.8 500.0 L1326.8 501.5 L1327.5 501.5 L1328.2 501.5 L1328.2 502.0 L1329.0 502.0 L1330.0 502.0 L1330.0 498.0 L1331.0 498.0 L1331.8 498.0 L1331.8 501.4 L1332.5 501.4 L1333.2 501.4 L1333.2 507.0 L1334.0 507.0 L1335.0 507.0 L1335.0 508.0 L1336.0 508.0 L1336.8 508.0 L1336.8 505.7 L1337.5 505.7 L1338.2 505.7 L1338.2 504.0 L1339.0 504.0 L1339.8 504.0 L1339.8 508.6 L1340.5 508.6 L1341.2 508.6 L1341.2 512.0 L1342.0 512.0 L1342.8 512.0 L1342.8 512.3 L1343.5 512.3 L1344.2 512.3 L1344.2 514.0 L1345.0 514.0 L1345.8 514.0 L1345.8 511.8 L1346.5 511.8 L1347.2 511.8 L1347.2 508.0 L1348.0 508.0 L1348.6 508.0 L1348.6 511.9 L1349.2 511.9 L1349.9 511.9 L1349.9 517.0 L1350.5 517.0 L1351.1 517.0 L1351.1 518.3 L1351.8 518.3 L1352.4 518.3 L1352.4 519.0 L1353.0 519.0 L1353.8 519.0 L1353.8 516.9 L1354.5 516.9 L1355.2 516.9 L1355.2 516.0 L1356.0 516.0 L1357.0 516.0 L1357.0 520.0 L1358.0 520.0 L1358.8 520.0 L1358.8 519.4 L1359.5 519.4 L1360.2 519.4 L1360.2 519.0 L1361.0 519.0 L1361.8 519.0 L1361.8 521.4 L1362.5 521.4 L1363.2 521.4 L1363.2 524.0 L1364.0 524.0 L1365.0 524.0 L1365.0 522.6 L1366.0 522.6 L1367.0 522.6 L1367.0 522.0 L1368.0 522.0 L1369.0 522.0 L1369.0 524.2 L1370.0 524.2 L1371.0 524.2 L1371.0 526.0 L1372.0 526.0 L1372.8 526.0 L1372.8 525.8 L1373.6 525.8 L1374.4 525.8 L1374.4 525.7 L1375.2 525.7 L1376.0 525.7 L1376.0 525.4 L1376.8 525.4 L1377.6 525.4 L1377.6 525.2 L1378.4 525.2 L1379.2 525.2 L1379.2 525.0 L1380.0 525.0 L1380.8 525.0 L1380.8 525.4 L1381.7 525.4 L1382.5 525.4 L1382.5 525.7 L1383.3 525.7 L1384.2 525.7 L1384.2 526.4 L1385.0 526.4 L1385.8 526.4 L1385.8 526.5 L1386.7 526.5 L1387.5 526.5 L1387.5 527.2 L1388.3 527.2 L1389.2 527.2 L1389.2 527.5 L1390.0 527.5 L1390.8 527.5 L1390.8 527.7 L1391.6 527.7 L1392.4 527.7 L1392.4 527.7 L1393.2 527.7 L1394.1 527.7 L1394.1 527.8 L1394.9 527.8 L1395.7 527.8 L1395.7 527.9 L1396.5 527.9 L1397.3 527.9 L1397.3 528.0 L1398.1 528.0 L1398.9 528.0 L1398.9 528.1 L1399.8 528.1 L1400.6 528.1 L1400.6 528.2 L1401.4 528.2 L1402.2 528.2 L1402.2 528.3 L1403.0 528.3 L1403.8 528.3 L1403.8 528.4 L1404.5 528.4 L1405.2 528.4 L1405.2 528.4 L1406.0 528.4 L1406.8 528.4 L1406.8 528.5 L1407.5 528.5 L1408.2 528.5 L1408.2 528.6 L1409.0 528.6 L1409.8 528.6 L1409.8 527.4 L1410.5 527.4 L1411.2 527.4 L1411.2 526.2 L1412.0 526.2 L1412.8 526.2 L1412.8 526.3 L1413.5 526.3 L1414.2 526.3 L1414.2 526.4 L1415.0 526.4 L1415.8 526.4 L1415.8 526.6 L1416.5 526.6 L1417.2 526.6 L1417.2 526.6 L1418.0 526.6 L1418.8 526.6 L1418.8 527.6 L1419.5 527.6 L1420.2 527.6 L1420.2 528.6 L1421.0 528.6 L1421.8 528.6 L1421.8 528.6 L1422.6 528.6 L1423.4 528.6 L1423.4 528.6 L1424.2 528.6 L1425.0 528.6 L1425.0 528.6 L1425.8 528.6 L1426.5 528.6 L1426.5 528.6 L1427.3 528.6 L1428.1 528.6 L1428.1 528.6 L1428.9 528.6 L1429.7 528.6 L1429.7 528.6 L1430.5 528.6 L1431.3 528.6 L1431.3 528.6 L1432.1 528.6 L1432.9 528.6 L1432.9 528.6 L1433.7 528.6 L1434.5 528.6 L1434.5 528.6 L1435.2 528.6 L1436.0 528.6 L1436.0 528.6 L1436.8 528.6 L1437.6 528.6 L1437.6 528.6 L1438.4 528.6 L1439.2 528.6 L1439.2 528.6 L1440.0 528.6" fill="none" stroke="#3346a6" stroke-width="2.2" stroke-linejoin="miter" stroke-linecap="butt"/>
<path d="M1025.0 528.5 L1025.8 528.5 L1025.8 528.5 L1026.6 528.5 L1027.4 528.5 L1027.4 528.5 L1028.2 528.5 L1029.0 528.5 L1029.0 528.5 L1029.8 528.5 L1030.6 528.5 L1030.6 528.5 L1031.4 528.5 L1032.2 528.5 L1032.2 528.5 L1033.0 528.5 L1033.8 528.5 L1033.8 528.4 L1034.5 528.4 L1035.3 528.4 L1035.3 528.4 L1036.1 528.4 L1036.9 528.4 L1036.9 528.4 L1037.7 528.4 L1038.5 528.4 L1038.5 528.4 L1039.3 528.4 L1040.1 528.4 L1040.1 528.4 L1040.9 528.4 L1041.7 528.4 L1041.7 528.4 L1042.5 528.4 L1043.3 528.4 L1043.3 528.4 L1044.1 528.4 L1044.9 528.4 L1044.9 528.4 L1045.7 528.4 L1046.5 528.4 L1046.5 528.4 L1047.3 528.4 L1048.1 528.4 L1048.1 528.4 L1048.9 528.4 L1049.7 528.4 L1049.7 528.4 L1050.5 528.4 L1051.2 528.4 L1051.2 528.4 L1052.0 528.4 L1052.8 528.4 L1052.8 528.4 L1053.6 528.4 L1054.4 528.4 L1054.4 528.3 L1055.2 528.3 L1056.0 528.3 L1056.0 528.3 L1056.8 528.3 L1057.6 528.3 L1057.6 528.3 L1058.4 528.3 L1059.2 528.3 L1059.2 528.3 L1060.0 528.3 L1060.8 528.3 L1060.8 528.3 L1061.6 528.3 L1062.4 528.3 L1062.4 528.3 L1063.2 528.3 L1064.0 528.3 L1064.0 528.3 L1064.8 528.3 L1065.6 528.3 L1065.6 528.3 L1066.4 528.3 L1067.2 528.3 L1067.2 528.2 L1068.0 528.2 L1068.8 528.2 L1068.8 528.2 L1069.6 528.2 L1070.4 528.2 L1070.4 528.2 L1071.2 528.2 L1072.0 528.2 L1072.0 528.2 L1072.8 528.2 L1073.6 528.2 L1073.6 528.2 L1074.4 528.2 L1075.2 528.2 L1075.2 528.2 L1076.0 528.2 L1076.8 528.2 L1076.8 528.2 L1077.6 528.2 L1078.4 528.2 L1078.4 528.1 L1079.2 528.1 L1080.0 528.1 L1080.0 528.2 L1080.8 528.2 L1081.6 528.2 L1081.6 528.2 L1082.4 528.2 L1083.2 528.2 L1083.2 528.1 L1084.0 528.1 L1084.8 528.1 L1084.8 528.1 L1085.6 528.1 L1086.4 528.1 L1086.4 528.1 L1087.2 528.1 L1088.0 528.1 L1088.0 528.1 L1088.8 528.1 L1089.6 528.1 L1089.6 528.0 L1090.4 528.0 L1091.2 528.0 L1091.2 528.1 L1092.0 528.1 L1092.8 528.1 L1092.8 528.1 L1093.6 528.1 L1094.4 528.1 L1094.4 528.1 L1095.2 528.1 L1096.0 528.1 L1096.0 528.0 L1096.8 528.0 L1097.6 528.0 L1097.6 528.0 L1098.4 528.0 L1099.2 528.0 L1099.2 528.0 L1100.0 528.0 L1100.8 528.0 L1100.8 528.0 L1101.6 528.0 L1102.4 528.0 L1102.4 527.9 L1103.2 527.9 L1103.9 527.9 L1103.9 528.0 L1104.7 528.0 L1105.5 528.0 L1105.5 527.9 L1106.3 527.9 L1107.1 527.9 L1107.1 527.8 L1107.9 527.8 L1108.7 527.8 L1108.7 527.9 L1109.5 527.9 L1110.3 527.9 L1110.3 527.8 L1111.1 527.8 L1111.8 527.8 L1111.8 527.8 L1112.6 527.8 L1113.4 527.8 L1113.4 527.8 L1114.2 527.8 L1115.0 527.8 L1115.0 527.7 L1115.8 527.7 L1116.6 527.7 L1116.6 527.7 L1117.4 527.7 L1118.2 527.7 L1118.2 527.7 L1118.9 527.7 L1119.7 527.7 L1119.7 527.6 L1120.5 527.6 L1121.3 527.6 L1121.3 527.7 L1122.1 527.7 L1122.9 527.7 L1122.9 527.5 L1123.7 527.5 L1124.5 527.5 L1124.5 527.6 L1125.3 527.6 L1126.1 527.6 L1126.1 527.5 L1126.8 527.5 L1127.6 527.5 L1127.6 527.4 L1128.4 527.4 L1129.2 527.4 L1129.2 527.5 L1130.0 527.5 L1130.8 527.5 L1130.8 527.5 L1131.5 527.5 L1132.2 527.5 L1132.2 527.3 L1133.0 527.3 L1133.8 527.3 L1133.8 527.2 L1134.5 527.2 L1135.2 527.2 L1135.2 527.3 L1136.0 527.3 L1136.8 527.3 L1136.8 527.1 L1137.5 527.1 L1138.2 527.1 L1138.2 527.1 L1139.0 527.1 L1139.8 527.1 L1139.8 527.1 L1140.5 527.1 L1141.2 527.1 L1141.2 527.0 L1142.0 527.0 L1142.8 527.0 L1142.8 526.8 L1143.6 526.8 L1144.4 526.8 L1144.4 526.6 L1145.2 526.6 L1146.0 526.6 L1146.0 526.3 L1146.8 526.3 L1147.6 526.3 L1147.6 526.1 L1148.4 526.1 L1149.2 526.1 L1149.2 526.0 L1150.0 526.0 L1150.8 526.0 L1150.8 525.9 L1151.6 525.9 L1152.4 525.9 L1152.4 525.6 L1153.2 525.6 L1154.0 525.6 L1154.0 525.4 L1154.8 525.4 L1155.6 525.4 L1155.6 525.4 L1156.4 525.4 L1157.2 525.4 L1157.2 525.0 L1158.0 525.0 L1158.8 525.0 L1158.8 524.4 L1159.5 524.4 L1160.2 524.4 L1160.2 524.3 L1161.0 524.3 L1161.8 524.3 L1161.8 524.3 L1162.5 524.3 L1163.2 524.3 L1163.2 524.0 L1164.0 524.0 L1165.0 524.0 L1165.0 522.3 L1166.0 522.3 L1167.0 522.3 L1167.0 521.5 L1168.0 521.5 L1169.0 521.5 L1169.0 522.1 L1170.0 522.1 L1171.0 522.1 L1171.0 522.0 L1172.0 522.0 L1173.0 522.0 L1173.0 519.3 L1174.0 519.3 L1175.0 519.3 L1175.0 517.0 L1176.0 517.0 L1176.8 517.0 L1176.8 515.9 L1177.5 515.9 L1178.2 515.9 L1178.2 515.5 L1179.0 515.5 L1180.0 515.5 L1180.0 513.1 L1181.0 513.1 L1182.0 513.1 L1182.0 512.0 L1183.0 512.0 L1184.0 512.0 L1184.0 508.0 L1185.0 508.0 L1185.8 508.0 L1185.8 508.0 L1186.5 508.0 L1187.2 508.0 L1187.2 506.0 L1188.0 506.0 L1188.7 506.0 L1188.7 502.3 L1189.3 502.3 L1189.9 502.3 L1189.9 500.6 L1190.6 500.6 L1191.4 500.6 L1191.4 499.6 L1192.3 499.6 L1193.2 499.6 L1193.2 497.0 L1194.0 497.0 L1195.0 497.0 L1195.0 493.5 L1196.0 493.5 L1197.0 493.5 L1197.0 489.0 L1198.0 489.0 L1198.8 489.0 L1198.8 486.1 L1199.5 486.1 L1200.2 486.1 L1200.2 481.0 L1201.0 481.0 L1201.7 481.0 L1201.7 478.1 L1202.3 478.1 L1203.0 478.1 L1203.0 474.0 L1203.7 474.0 L1204.7 474.0 L1204.7 467.0 L1205.6 467.0 L1206.5 467.0 L1206.5 461.0 L1207.5 461.0 L1208.1 461.0 L1208.1 454.2 L1208.8 454.2 L1209.4 454.2 L1209.4 447.0 L1210.0 447.0 L1211.0 447.0 L1211.0 433.0 L1212.0 433.0 L1212.8 433.0 L1212.8 422.8 L1213.5 422.8 L1214.2 422.8 L1214.2 410.0 L1215.0 410.0 L1216.0 410.0 L1216.0 395.5 L1216.9 395.5 L1217.8 395.5 L1217.8 384.0 L1218.8 384.0 L1219.5 384.0 L1219.5 378.1 L1220.2 378.1 L1220.8 378.1 L1220.8 370.0 L1221.5 370.0 L1222.2 370.0 L1222.2 364.6 L1223.0 364.6 L1223.7 364.6 L1223.7 358.0 L1224.4 358.0 L1225.5 358.0 L1225.5 338.0 L1226.5 338.0 L1227.3 338.0 L1227.3 320.0 L1228.2 320.0 L1228.3 320.0 L1228.3 313.4 L1228.5 313.4 L1229.1 313.4 L1229.1 299.1 L1229.7 299.1 L1230.3 299.1 L1230.3 286.7 L1230.9 286.7 L1232.1 286.7 L1232.1 266.4 L1233.2 266.4 L1234.0 266.4 L1234.0 263.9 L1234.8 263.9 L1235.6 263.9 L1235.6 258.5 L1236.4 258.5 L1237.2 258.5 L1237.2 239.7 L1237.9 239.7 L1238.7 239.7 L1238.7 234.4 L1239.5 234.4 L1240.2 234.4 L1240.2 230.3 L1241.0 230.3 L1241.8 230.3 L1241.8 221.1 L1242.5 221.1 L1243.2 221.1 L1243.2 215.0 L1244.0 215.0 L1244.7 215.0 L1244.7 208.6 L1245.3 208.6 L1245.9 208.6 L1245.9 203.7 L1246.6 203.7 L1247.4 203.7 L1247.4 207.9 L1248.3 207.9 L1249.2 207.9 L1249.2 212.0 L1250.0 212.0 L1250.7 212.0 L1250.7 212.4 L1251.5 212.4 L1252.2 212.4 L1252.2 216.2 L1252.9 216.2 L1253.7 216.2 L1253.7 217.8 L1254.4 217.8 L1255.1 217.8 L1255.1 211.2 L1255.7 211.2 L1256.3 211.2 L1256.3 205.0 L1257.0 205.0 L1257.7 205.0 L1257.7 198.3 L1258.5 198.3 L1259.2 198.3 L1259.2 192.7 L1259.9 192.7 L1260.7 192.7 L1260.7 200.0 L1261.5 200.0 L1262.7 200.0 L1262.7 178.6 L1263.8 178.6 L1264.9 178.6 L1264.9 189.6 L1266.1 189.6 L1266.7 189.6 L1266.7 199.0 L1267.3 199.0 L1267.9 199.0 L1267.9 206.8 L1268.5 206.8 L1268.9 206.8 L1268.9 227.2 L1269.3 227.2 L1270.1 227.2 L1270.1 237.8 L1270.8 237.8 L1271.6 237.8 L1271.6 247.6 L1272.4 247.6 L1273.4 247.6 L1273.4 251.4 L1274.3 251.4 L1275.3 251.4 L1275.3 252.3 L1276.3 252.3 L1276.7 252.3 L1276.7 271.0 L1277.1 271.0 L1277.7 271.0 L1277.7 274.6 L1278.3 274.6 L1278.9 274.6 L1278.9 275.8 L1279.5 275.8 L1280.2 275.8 L1280.2 299.3 L1281.0 299.3 L1281.4 299.3 L1281.4 330.0 L1281.8 330.0 L1282.7 330.0 L1282.7 345.0 L1283.5 345.0 L1284.3 345.0 L1284.3 357.6 L1285.2 357.6 L1285.9 357.6 L1285.9 369.2 L1286.6 369.2 L1287.3 369.2 L1287.3 378.0 L1288.0 378.0 L1288.7 378.0 L1288.7 387.7 L1289.5 387.7 L1290.2 387.7 L1290.2 395.2 L1290.9 395.2 L1291.8 395.2 L1291.8 406.5 L1292.8 406.5 L1293.7 406.5 L1293.7 417.8 L1294.6 417.8 L1295.3 417.8 L1295.3 424.5 L1296.0 424.5 L1296.8 424.5 L1296.8 434.0 L1297.5 434.0 L1298.2 434.0 L1298.2 440.8 L1298.9 440.8 L1299.6 440.8 L1299.6 447.9 L1300.3 447.9 L1301.0 447.9 L1301.0 453.0 L1301.7 453.0 L1302.4 453.0 L1302.4 458.8 L1303.1 458.8 L1303.8 458.8 L1303.8 462.5 L1304.5 462.5 L1305.2 462.5 L1305.2 466.7 L1305.9 466.7 L1306.8 466.7 L1306.8 473.1 L1307.7 473.1 L1308.6 473.1 L1308.6 479.0 L1309.5 479.0 L1310.5 479.0 L1310.5 483.0 L1311.5 483.0 L1312.4 483.0 L1312.4 489.3 L1313.4 489.3 L1314.1 489.3 L1314.1 488.1 L1314.7 488.1 L1315.3 488.1 L1315.3 486.0 L1316.0 486.0 L1316.6 486.0 L1316.6 487.3 L1317.2 487.3 L1317.9 487.3 L1317.9 491.0 L1318.5 491.0 L1319.2 491.0 L1319.2 490.7 L1320.0 490.7 L1320.7 490.7 L1320.7 491.2 L1321.4 491.2 L1322.2 491.2 L1322.2 493.0 L1322.9 493.0 L1323.7 493.0 L1323.7 492.6 L1324.5 492.6 L1325.2 492.6 L1325.2 491.0 L1326.0 491.0 L1326.8 491.0 L1326.8 495.1 L1327.5 495.1 L1328.2 495.1 L1328.2 497.0 L1329.0 497.0 L1329.8 497.0 L1329.8 499.0 L1330.7 499.0 L1331.5 499.0 L1331.5 500.6 L1332.3 500.6 L1333.1 500.6 L1333.1 501.1 L1333.9 501.1 L1334.7 501.1 L1334.7 504.1 L1335.4 504.1 L1336.2 504.1 L1336.2 505.0 L1337.0 505.0 L1337.8 505.0 L1337.8 506.6 L1338.6 506.6 L1339.3 506.6 L1339.3 510.0 L1340.1 510.0 L1340.9 510.0 L1340.9 511.9 L1341.7 511.9 L1342.6 511.9 L1342.6 513.0 L1343.5 513.0 L1344.3 513.0 L1344.3 514.2 L1345.2 514.2 L1346.1 514.2 L1346.1 514.0 L1347.0 514.0 L1347.8 514.0 L1347.8 514.7 L1348.5 514.7 L1349.2 514.7 L1349.2 516.2 L1350.0 516.2 L1350.8 516.2 L1350.8 517.7 L1351.5 517.7 L1352.2 517.7 L1352.2 519.4 L1353.0 519.4 L1353.8 519.4 L1353.8 519.7 L1354.5 519.7 L1355.2 519.7 L1355.2 521.9 L1356.0 521.9 L1356.8 521.9 L1356.8 522.4 L1357.5 522.4 L1358.2 522.4 L1358.2 522.8 L1359.0 522.8 L1359.8 522.8 L1359.8 524.1 L1360.5 524.1 L1361.4 524.1 L1361.4 523.9 L1362.3 523.9 L1363.2 523.9 L1363.2 523.4 L1364.2 523.4 L1365.1 523.4 L1365.1 523.5 L1366.0 523.5 L1366.7 523.5 L1366.7 524.5 L1367.5 524.5 L1368.2 524.5 L1368.2 524.7 L1368.9 524.7 L1369.6 524.7 L1369.6 525.1 L1370.3 525.1 L1371.1 525.1 L1371.1 526.0 L1371.8 526.0 L1372.6 526.0 L1372.6 526.0 L1373.4 526.0 L1374.3 526.0 L1374.3 525.7 L1375.1 525.7 L1375.9 525.7 L1375.9 525.8 L1376.7 525.8 L1377.5 525.8 L1377.5 525.7 L1378.4 525.7 L1379.2 525.7 L1379.2 525.5 L1380.0 525.5 L1380.8 525.5 L1380.8 525.5 L1381.7 525.5 L1382.5 525.5 L1382.5 526.0 L1383.3 526.0 L1384.2 526.0 L1384.2 526.4 L1385.0 526.4 L1385.8 526.4 L1385.8 526.4 L1386.7 526.4 L1387.5 526.4 L1387.5 526.7 L1388.3 526.7 L1389.2 526.7 L1389.2 527.0 L1390.0 527.0 L1390.8 527.0 L1390.8 527.2 L1391.7 527.2 L1392.5 527.2 L1392.5 527.2 L1393.3 527.2 L1394.2 527.2 L1394.2 527.5 L1395.0 527.5 L1395.8 527.5 L1395.8 527.6 L1396.7 527.6 L1397.5 527.6 L1397.5 527.7 L1398.3 527.7 L1399.2 527.7 L1399.2 527.8 L1400.0 527.8 L1400.9 527.8 L1400.9 528.0 L1401.8 528.0 L1402.6 528.0 L1402.6 528.2 L1403.5 528.2 L1404.4 528.2 L1404.4 528.4 L1405.2 528.4 L1406.1 528.4 L1406.1 528.6 L1407.0 528.6" fill="none" stroke="#ee1c25" stroke-width="2.3" stroke-linejoin="miter" stroke-linecap="butt"/>
<path d="M1025.0 528.6 L1025.8 528.6 L1025.8 528.6 L1026.6 528.6 L1027.4 528.6 L1027.4 528.6 L1028.2 528.6 L1029.0 528.6 L1029.0 528.6 L1029.8 528.6 L1030.6 528.6 L1030.6 528.6 L1031.4 528.6 L1032.2 528.6 L1032.2 528.6 L1033.0 528.6 L1033.8 528.6 L1033.8 528.5 L1034.5 528.5 L1035.3 528.5 L1035.3 528.5 L1036.1 528.5 L1036.9 528.5 L1036.9 528.5 L1037.7 528.5 L1038.5 528.5 L1038.5 528.5 L1039.3 528.5 L1040.1 528.5 L1040.1 528.5 L1040.9 528.5 L1041.7 528.5 L1041.7 528.5 L1042.5 528.5 L1043.3 528.5 L1043.3 528.5 L1044.1 528.5 L1044.9 528.5 L1044.9 528.5 L1045.7 528.5 L1046.5 528.5 L1046.5 528.5 L1047.3 528.5 L1048.1 528.5 L1048.1 528.5 L1048.9 528.5 L1049.7 528.5 L1049.7 528.5 L1050.5 528.5 L1051.2 528.5 L1051.2 528.5 L1052.0 528.5 L1052.8 528.5 L1052.8 528.4 L1053.6 528.4 L1054.4 528.4 L1054.4 528.4 L1055.2 528.4 L1056.0 528.4 L1056.0 528.4 L1056.8 528.4 L1057.6 528.4 L1057.6 528.4 L1058.4 528.4 L1059.2 528.4 L1059.2 528.4 L1060.0 528.4 L1060.8 528.4 L1060.8 528.4 L1061.6 528.4 L1062.4 528.4 L1062.4 528.4 L1063.2 528.4 L1064.0 528.4 L1064.0 528.4 L1064.8 528.4 L1065.6 528.4 L1065.6 528.3 L1066.4 528.3 L1067.2 528.3 L1067.2 528.4 L1068.0 528.4 L1068.8 528.4 L1068.8 528.3 L1069.6 528.3 L1070.4 528.3 L1070.4 528.3 L1071.2 528.3 L1072.0 528.3 L1072.0 528.3 L1072.8 528.3 L1073.6 528.3 L1073.6 528.3 L1074.4 528.3 L1075.2 528.3 L1075.2 528.3 L1076.0 528.3 L1076.8 528.3 L1076.8 528.3 L1077.6 528.3 L1078.4 528.3 L1078.4 528.3 L1079.2 528.3 L1080.0 528.3 L1080.0 528.3 L1080.8 528.3 L1081.6 528.3 L1081.6 528.3 L1082.4 528.3 L1083.2 528.3 L1083.2 528.2 L1084.0 528.2 L1084.8 528.2 L1084.8 528.2 L1085.6 528.2 L1086.4 528.2 L1086.4 528.2 L1087.2 528.2 L1088.0 528.2 L1088.0 528.2 L1088.8 528.2 L1089.6 528.2 L1089.6 528.1 L1090.4 528.1 L1091.2 528.1 L1091.2 528.2 L1092.0 528.2 L1092.8 528.2 L1092.8 528.1 L1093.6 528.1 L1094.4 528.1 L1094.4 528.1 L1095.2 528.1 L1096.0 528.1 L1096.0 528.1 L1096.8 528.1 L1097.6 528.1 L1097.6 528.1 L1098.4 528.1 L1099.2 528.1 L1099.2 528.1 L1100.0 528.1 L1100.8 528.1 L1100.8 528.0 L1101.6 528.0 L1102.4 528.0 L1102.4 528.1 L1103.2 528.1 L1103.9 528.1 L1103.9 528.0 L1104.7 528.0 L1105.5 528.0 L1105.5 528.0 L1106.3 528.0 L1107.1 528.0 L1107.1 528.0 L1107.9 528.0 L1108.7 528.0 L1108.7 527.9 L1109.5 527.9 L1110.3 527.9 L1110.3 527.9 L1111.1 527.9 L1111.8 527.9 L1111.8 527.9 L1112.6 527.9 L1113.4 527.9 L1113.4 527.8 L1114.2 527.8 L1115.0 527.8 L1115.0 527.9 L1115.8 527.9 L1116.6 527.9 L1116.6 527.8 L1117.4 527.8 L1118.2 527.8 L1118.2 527.8 L1118.9 527.8 L1119.7 527.8 L1119.7 527.8 L1120.5 527.8 L1121.3 527.8 L1121.3 527.8 L1122.1 527.8 L1122.9 527.8 L1122.9 527.8 L1123.7 527.8 L1124.5 527.8 L1124.5 527.7 L1125.3 527.7 L1126.1 527.7 L1126.1 527.7 L1126.8 527.7 L1127.6 527.7 L1127.6 527.6 L1128.4 527.6 L1129.2 527.6 L1129.2 527.6 L1130.0 527.6 L1130.8 527.6 L1130.8 527.5 L1131.5 527.5 L1132.2 527.5 L1132.2 527.5 L1133.0 527.5 L1133.8 527.5 L1133.8 527.5 L1134.5 527.5 L1135.2 527.5 L1135.2 527.4 L1136.0 527.4 L1136.8 527.4 L1136.8 527.3 L1137.5 527.3 L1138.2 527.3 L1138.2 527.0 L1139.0 527.0 L1139.8 527.0 L1139.8 527.1 L1140.5 527.1 L1141.2 527.1 L1141.2 527.0 L1142.0 527.0 L1142.8 527.0 L1142.8 526.5 L1143.6 526.5 L1144.4 526.5 L1144.4 526.2 L1145.2 526.2 L1146.0 526.2 L1146.0 525.8 L1146.8 525.8 L1147.6 525.8 L1147.6 525.4 L1148.4 525.4 L1149.2 525.4 L1149.2 525.0 L1150.0 525.0 L1151.0 525.0 L1151.0 525.9 L1152.0 525.9 L1153.0 525.9 L1153.0 526.5 L1154.0 526.5 L1155.0 526.5 L1155.0 524.6 L1156.0 524.6 L1157.0 524.6 L1157.0 523.0 L1158.0 523.0 L1159.0 523.0 L1159.0 524.2 L1160.0 524.2 L1161.0 524.2 L1161.0 525.0 L1162.0 525.0 L1163.0 525.0 L1163.0 522.6 L1164.0 522.6 L1165.0 522.6 L1165.0 520.0 L1166.0 520.0 L1166.8 520.0 L1166.8 520.6 L1167.5 520.6 L1168.2 520.6 L1168.2 522.0 L1169.0 522.0 L1169.8 522.0 L1169.8 520.3 L1170.5 520.3 L1171.2 520.3 L1171.2 517.0 L1172.0 517.0 L1173.0 517.0 L1173.0 512.4 L1174.0 512.4 L1175.0 512.4 L1175.0 509.5 L1176.0 509.5 L1176.6 509.5 L1176.6 512.7 L1177.2 512.7 L1177.9 512.7 L1177.9 516.0 L1178.5 516.0 L1179.1 516.0 L1179.1 513.6 L1179.8 513.6 L1180.4 513.6 L1180.4 511.0 L1181.0 511.0 L1182.0 511.0 L1182.0 509.2 L1183.0 509.2 L1184.0 509.2 L1184.0 507.0 L1185.0 507.0 L1185.6 507.0 L1185.6 504.1 L1186.2 504.1 L1186.9 504.1 L1186.9 499.0 L1187.5 499.0 L1188.1 499.0 L1188.1 501.1 L1188.8 501.1 L1189.4 501.1 L1189.4 503.0 L1190.0 503.0 L1190.8 503.0 L1190.8 499.4 L1191.5 499.4 L1192.2 499.4 L1192.2 494.0 L1193.0 494.0 L1193.8 494.0 L1193.8 492.0 L1194.5 492.0 L1195.2 492.0 L1195.2 491.0 L1196.0 491.0 L1196.8 491.0 L1196.8 485.9 L1197.5 485.9 L1198.2 485.9 L1198.2 481.0 L1199.0 481.0 L1199.8 481.0 L1199.8 477.5 L1200.5 477.5 L1201.2 477.5 L1201.2 476.0 L1202.0 476.0 L1202.6 476.0 L1202.6 472.4 L1203.2 472.4 L1203.9 472.4 L1203.9 468.0 L1204.5 468.0 L1205.0 468.0 L1205.0 446.0 L1205.6 446.0 L1206.3 446.0 L1206.3 462.0 L1207.0 462.0 L1208.0 462.0 L1208.0 449.0 L1209.0 449.0 L1210.0 449.0 L1210.0 435.0 L1211.0 435.0 L1211.8 435.0 L1211.8 423.3 L1212.5 423.3 L1213.2 423.3 L1213.2 412.0 L1214.0 412.0 L1215.0 412.0 L1215.0 399.9 L1216.0 399.9 L1217.0 399.9 L1217.0 386.0 L1218.0 386.0 L1218.6 386.0 L1218.6 377.8 L1219.2 377.8 L1219.9 377.8 L1219.9 372.0 L1220.5 372.0 L1221.1 372.0 L1221.1 365.9 L1221.8 365.9 L1222.4 365.9 L1222.4 360.0 L1223.0 360.0 L1223.6 360.0 L1223.6 353.5 L1224.2 353.5 L1224.9 353.5 L1224.9 344.0 L1225.5 344.0 L1226.6 344.0 L1226.6 330.0 L1227.7 330.0 L1228.1 330.0 L1228.1 313.4 L1228.5 313.4 L1229.1 313.4 L1229.1 298.5 L1229.7 298.5 L1230.3 298.5 L1230.3 286.7 L1230.9 286.7 L1231.7 286.7 L1231.7 273.9 L1232.5 273.9 L1233.2 273.9 L1233.2 260.0 L1234.0 260.0 L1235.0 260.0 L1235.0 255.1 L1236.0 255.1 L1237.0 255.1 L1237.0 249.0 L1238.0 249.0 L1239.2 249.0 L1239.2 231.9 L1240.3 231.9 L1241.0 231.9 L1241.0 217.0 L1241.8 217.0 L1242.8 217.0 L1242.8 211.1 L1243.8 211.1 L1244.8 211.1 L1244.8 203.7 L1245.8 203.7 L1246.9 203.7 L1246.9 178.6 L1248.0 178.6 L1248.6 178.6 L1248.6 165.8 L1249.2 165.8 L1249.9 165.8 L1249.9 152.7 L1250.5 152.7 L1251.7 152.7 L1251.7 164.5 L1252.8 164.5 L1253.6 164.5 L1253.6 170.8 L1254.4 170.8 L1255.2 170.8 L1255.2 177.0 L1256.0 177.0 L1257.2 177.0 L1257.2 189.6 L1258.3 189.6 L1259.1 189.6 L1259.1 203.7 L1259.9 203.7 L1260.7 203.7 L1260.7 230.3 L1261.4 230.3 L1262.6 230.3 L1262.6 252.3 L1263.8 252.3 L1264.9 252.3 L1264.9 271.0 L1266.1 271.0 L1266.7 271.0 L1266.7 280.3 L1267.3 280.3 L1267.9 280.3 L1267.9 286.7 L1268.5 286.7 L1269.2 286.7 L1269.2 307.0 L1270.0 307.0 L1270.8 307.0 L1270.8 330.0 L1271.6 330.0 L1272.3 330.0 L1272.3 346.3 L1273.0 346.3 L1273.6 346.3 L1273.6 353.0 L1274.2 353.0 L1274.9 353.0 L1274.9 361.0 L1275.5 361.0 L1276.6 361.0 L1276.6 374.5 L1277.7 374.5 L1278.7 374.5 L1278.7 385.5 L1279.6 385.5 L1280.5 385.5 L1280.5 395.2 L1281.5 395.2 L1282.2 395.2 L1282.2 412.0 L1283.0 412.0 L1283.7 412.0 L1283.7 427.2 L1284.3 427.2 L1285.4 427.2 L1285.4 440.0 L1286.5 440.0 L1287.1 440.0 L1287.1 446.4 L1287.8 446.4 L1288.4 446.4 L1288.4 451.7 L1289.0 451.7 L1290.0 451.7 L1290.0 466.0 L1291.0 466.0 L1291.9 466.0 L1291.9 478.0 L1292.8 478.0 L1293.5 478.0 L1293.5 477.2 L1294.2 477.2 L1294.9 477.2 L1294.9 475.0 L1295.6 475.0 L1296.4 475.0 L1296.4 481.4 L1297.3 481.4 L1298.2 481.4 L1298.2 488.0 L1299.0 488.0 L1299.8 488.0 L1299.8 491.2 L1300.6 491.2 L1301.4 491.2 L1301.4 496.8 L1302.2 496.8 L1303.1 496.8 L1303.1 494.0 L1304.0 494.0 L1305.0 494.0 L1305.0 502.4 L1305.9 502.4 L1306.7 502.4 L1306.7 502.3 L1307.5 502.3 L1308.2 502.3 L1308.2 501.0 L1309.0 501.0 L1309.7 501.0 L1309.7 503.1 L1310.3 503.1 L1310.9 503.1 L1310.9 506.2 L1311.6 506.2 L1312.6 506.2 L1312.6 509.7 L1313.5 509.7 L1314.5 509.7 L1314.5 512.0 L1315.5 512.0 L1316.4 512.0 L1316.4 515.7 L1317.3 515.7 L1318.2 515.7 L1318.2 517.5 L1319.1 517.5 L1320.1 517.5 L1320.1 519.7 L1321.0 519.7 L1322.0 519.7 L1322.0 521.0 L1323.0 521.0 L1323.9 521.0 L1323.9 521.9 L1324.8 521.9 L1325.7 521.9 L1325.7 523.1 L1326.6 523.1 L1327.3 523.1 L1327.3 523.2 L1328.1 523.2 L1328.8 523.2 L1328.8 522.5 L1329.6 522.5 L1330.3 522.5 L1330.3 522.2 L1331.0 522.2 L1331.8 522.2 L1331.8 522.3 L1332.5 522.3 L1333.3 522.3 L1333.3 522.0 L1334.0 522.0 L1334.8 522.0 L1334.8 522.6 L1335.5 522.6 L1336.3 522.6 L1336.3 523.0 L1337.1 523.0 L1337.8 523.0 L1337.8 523.2 L1338.6 523.2 L1339.4 523.2 L1339.4 523.5 L1340.2 523.5 L1340.9 523.5 L1340.9 524.0 L1341.7 524.0 L1342.6 524.0 L1342.6 523.7 L1343.5 523.7 L1344.3 523.7 L1344.3 522.8 L1345.2 522.8 L1346.1 522.8 L1346.1 522.5 L1347.0 522.5 L1347.8 522.5 L1347.8 523.7 L1348.5 523.7 L1349.2 523.7 L1349.2 524.4 L1350.0 524.4 L1350.8 524.4 L1350.8 525.6 L1351.5 525.6 L1352.2 525.6 L1352.2 526.9 L1353.0 526.9 L1353.8 526.9 L1353.8 527.1 L1354.5 527.1 L1355.2 527.1 L1355.2 527.1 L1356.0 527.1 L1356.8 527.1 L1356.8 527.3 L1357.5 527.3 L1358.2 527.3 L1358.2 527.4 L1359.0 527.4 L1359.8 527.4 L1359.8 527.7 L1360.5 527.7 L1361.2 527.7 L1361.2 527.8 L1362.0 527.8 L1362.8 527.8 L1362.8 527.9 L1363.6 527.9 L1364.4 527.9 L1364.4 528.0 L1365.2 528.0 L1366.0 528.0 L1366.0 528.2 L1366.8 528.2 L1367.6 528.2 L1367.6 528.4 L1368.4 528.4 L1369.2 528.4 L1369.2 528.5 L1370.0 528.5 L1370.8 528.5 L1370.8 528.5 L1371.7 528.5 L1372.5 528.5 L1372.5 528.5 L1373.3 528.5 L1374.2 528.5 L1374.2 528.5 L1375.0 528.5 L1375.8 528.5 L1375.8 528.5 L1376.7 528.5 L1377.5 528.5 L1377.5 528.5 L1378.3 528.5 L1379.2 528.5 L1379.2 528.6 L1380.0 528.6 L1380.8 528.6 L1380.8 528.6 L1381.7 528.6 L1382.5 528.6 L1382.5 528.6 L1383.3 528.6 L1384.2 528.6 L1384.2 528.6 L1385.0 528.6 L1385.8 528.6 L1385.8 528.6 L1386.7 528.6 L1387.5 528.6 L1387.5 528.6 L1388.3 528.6 L1389.2 528.6 L1389.2 528.6 L1390.0 528.6" fill="none" stroke="#9b2c93" stroke-width="2.1" stroke-linejoin="miter" stroke-linecap="butt"/>
<rect x="1023.6" y="80.8" width="449.8" height="449.5" fill="none" stroke="#323f9c" stroke-width="3.1"/>
<line x1="1009.20" y1="80.80" x2="1023.40" y2="80.80" stroke="#323f9c" stroke-width="2.9" stroke-linecap="butt"/>
<line x1="1009.20" y1="530.30" x2="1023.40" y2="530.30" stroke="#323f9c" stroke-width="2.9" stroke-linecap="butt"/>
<text transform="translate(997.60 81.80) rotate(-90)" font-family="'Liberation Sans', Arial, Helvetica, sans-serif" font-size="35" font-weight="normal" font-style="normal" text-anchor="middle" fill="#323f9c" stroke="#323f9c" stroke-width="0.1" stroke-linejoin="round">500</text>
<line x1="1009.20" y1="169.20" x2="1023.40" y2="169.20" stroke="#323f9c" stroke-width="2.7" stroke-linecap="butt"/>
<text transform="translate(997.60 171.00) rotate(-90)" font-family="'Liberation Sans', Arial, Helvetica, sans-serif" font-size="35" font-weight="normal" font-style="normal" text-anchor="middle" fill="#323f9c" stroke="#323f9c" stroke-width="0.1" stroke-linejoin="round">400</text>
<line x1="1009.20" y1="349.20" x2="1023.40" y2="349.20" stroke="#323f9c" stroke-width="2.7" stroke-linecap="butt"/>
<text transform="translate(997.60 348.90) rotate(-90)" font-family="'Liberation Sans', Arial, Helvetica, sans-serif" font-size="35" font-weight="normal" font-style="normal" text-anchor="middle" fill="#323f9c" stroke="#323f9c" stroke-width="0.1" stroke-linejoin="round">200</text>
<text transform="translate(997.60 530.30) rotate(-90)" font-family="'Liberation Sans', Arial, Helvetica, sans-serif" font-size="35" font-weight="normal" font-style="normal" text-anchor="middle" fill="#323f9c" stroke="#323f9c" stroke-width="0.1" stroke-linejoin="round">0</text>
<line x1="1023.50" y1="530.30" x2="1023.50" y2="543.40" stroke="#323f9c" stroke-width="2.7" stroke-linecap="round"/>
<line x1="1055.90" y1="530.30" x2="1055.90" y2="543.40" stroke="#323f9c" stroke-width="2.7" stroke-linecap="round"/>
<line x1="1076.50" y1="530.30" x2="1076.50" y2="543.40" stroke="#323f9c" stroke-width="2.7" stroke-linecap="round"/>
<line x1="1090.60" y1="530.30" x2="1090.60" y2="543.40" stroke="#323f9c" stroke-width="2.7" stroke-linecap="round"/>
<line x1="1101.00" y1="530.30" x2="1101.00" y2="543.40" stroke="#323f9c" stroke-width="2.7" stroke-linecap="round"/>
<line x1="1111.30" y1="530.30" x2="1111.30" y2="543.40" stroke="#323f9c" stroke-width="2.7" stroke-linecap="round"/>
<line x1="1116.60" y1="530.30" x2="1116.60" y2="543.40" stroke="#323f9c" stroke-width="2.7" stroke-linecap="round"/>
<line x1="1124.30" y1="530.30" x2="1124.30" y2="543.40" stroke="#323f9c" stroke-width="2.7" stroke-linecap="round"/>
<line x1="1129.90" y1="530.30" x2="1129.90" y2="543.40" stroke="#323f9c" stroke-width="2.7" stroke-linecap="round"/>
<line x1="1135.20" y1="530.30" x2="1135.20" y2="543.40" stroke="#323f9c" stroke-width="2.7" stroke-linecap="round"/>
<line x1="1170.00" y1="530.30" x2="1170.00" y2="543.40" stroke="#323f9c" stroke-width="2.7" stroke-linecap="round"/>
<line x1="1188.30" y1="530.30" x2="1188.30" y2="543.40" stroke="#323f9c" stroke-width="2.7" stroke-linecap="round"/>
<line x1="1205.20" y1="530.30" x2="1205.20" y2="543.40" stroke="#323f9c" stroke-width="2.7" stroke-linecap="round"/>
<line x1="1215.00" y1="530.30" x2="1215.00" y2="543.40" stroke="#323f9c" stroke-width="2.7" stroke-linecap="round"/>
<line x1="1222.70" y1="530.30" x2="1222.70" y2="543.40" stroke="#323f9c" stroke-width="2.7" stroke-linecap="round"/>
<line x1="1230.90" y1="530.30" x2="1230.90" y2="543.40" stroke="#323f9c" stroke-width="2.7" stroke-linecap="round"/>
<line x1="1236.30" y1="530.30" x2="1236.30" y2="543.40" stroke="#323f9c" stroke-width="2.7" stroke-linecap="round"/>
<line x1="1241.60" y1="530.30" x2="1241.60" y2="543.40" stroke="#323f9c" stroke-width="2.7" stroke-linecap="round"/>
<line x1="1281.40" y1="530.30" x2="1281.40" y2="543.40" stroke="#323f9c" stroke-width="2.7" stroke-linecap="round"/>
<line x1="1303.40" y1="530.30" x2="1303.40" y2="543.40" stroke="#323f9c" stroke-width="2.7" stroke-linecap="round"/>
<line x1="1316.40" y1="530.30" x2="1316.40" y2="543.40" stroke="#323f9c" stroke-width="2.7" stroke-linecap="round"/>
<line x1="1326.70" y1="530.30" x2="1326.70" y2="543.40" stroke="#323f9c" stroke-width="2.7" stroke-linecap="round"/>
<line x1="1337.10" y1="530.30" x2="1337.10" y2="543.40" stroke="#323f9c" stroke-width="2.7" stroke-linecap="round"/>
<line x1="1342.70" y1="530.30" x2="1342.70" y2="543.40" stroke="#323f9c" stroke-width="2.7" stroke-linecap="round"/>
<line x1="1351.20" y1="530.30" x2="1351.20" y2="543.40" stroke="#323f9c" stroke-width="2.7" stroke-linecap="round"/>
<line x1="1356.50" y1="530.30" x2="1356.50" y2="543.40" stroke="#323f9c" stroke-width="2.7" stroke-linecap="round"/>
<line x1="1362.10" y1="530.30" x2="1362.10" y2="543.40" stroke="#323f9c" stroke-width="2.7" stroke-linecap="round"/>
<line x1="1396.40" y1="530.30" x2="1396.40" y2="543.40" stroke="#323f9c" stroke-width="2.7" stroke-linecap="round"/>
<line x1="1415.00" y1="530.30" x2="1415.00" y2="543.40" stroke="#323f9c" stroke-width="2.7" stroke-linecap="round"/>
<line x1="1430.60" y1="530.30" x2="1430.60" y2="543.40" stroke="#323f9c" stroke-width="2.7" stroke-linecap="round"/>
<line x1="1440.70" y1="530.30" x2="1440.70" y2="543.40" stroke="#323f9c" stroke-width="2.7" stroke-linecap="round"/>
<line x1="1449.80" y1="530.30" x2="1449.80" y2="543.40" stroke="#323f9c" stroke-width="2.7" stroke-linecap="round"/>
<line x1="1457.30" y1="530.30" x2="1457.30" y2="543.40" stroke="#323f9c" stroke-width="2.7" stroke-linecap="round"/>
<line x1="1463.00" y1="530.30" x2="1463.00" y2="543.40" stroke="#323f9c" stroke-width="2.7" stroke-linecap="round"/>
<line x1="1468.00" y1="530.30" x2="1468.00" y2="543.40" stroke="#323f9c" stroke-width="2.7" stroke-linecap="round"/>
<line x1="1246.30" y1="530.30" x2="1246.30" y2="543.00" stroke="#323f9c" stroke-width="4.0" stroke-linecap="round"/>
<line x1="1472.40" y1="530.30" x2="1472.40" y2="543.00" stroke="#323f9c" stroke-width="4.0" stroke-linecap="round"/>
<text transform="translate(1000.38 578.90) scale(1.0000 1.0350)" font-family="'Liberation Sans', Arial, Helvetica, sans-serif" font-size="34.0" font-weight="normal" font-style="normal" text-anchor="start" fill="#323f9c" stroke="#323f9c" stroke-width="0.1" stroke-linejoin="round">10</text>
<text transform="translate(1036.50 567.80) scale(1.0000 1.0350)" font-family="'Liberation Sans', Arial, Helvetica, sans-serif" font-size="21" font-weight="normal" font-style="normal" text-anchor="start" fill="#323f9c" stroke="#323f9c" stroke-width="0.1" stroke-linejoin="round">1</text>
<text transform="translate(1111.38 578.90) scale(1.0000 1.0350)" font-family="'Liberation Sans', Arial, Helvetica, sans-serif" font-size="34.0" font-weight="normal" font-style="normal" text-anchor="start" fill="#323f9c" stroke="#323f9c" stroke-width="0.1" stroke-linejoin="round">10</text>
<text transform="translate(1147.50 567.80) scale(1.0000 1.0350)" font-family="'Liberation Sans', Arial, Helvetica, sans-serif" font-size="21" font-weight="normal" font-style="normal" text-anchor="start" fill="#323f9c" stroke="#323f9c" stroke-width="0.1" stroke-linejoin="round">2</text>
<text transform="translate(1220.38 578.90) scale(1.0000 1.0350)" font-family="'Liberation Sans', Arial, Helvetica, sans-serif" font-size="34.0" font-weight="normal" font-style="normal" text-anchor="start" fill="#323f9c" stroke="#323f9c" stroke-width="0.1" stroke-linejoin="round">10</text>
<text transform="translate(1256.50 567.80) scale(1.0000 1.0350)" font-family="'Liberation Sans', Arial, Helvetica, sans-serif" font-size="21" font-weight="normal" font-style="normal" text-anchor="start" fill="#323f9c" stroke="#323f9c" stroke-width="0.1" stroke-linejoin="round">3</text>
<text transform="translate(1337.48 578.90) scale(1.0000 1.0350)" font-family="'Liberation Sans', Arial, Helvetica, sans-serif" font-size="34.0" font-weight="normal" font-style="normal" text-anchor="start" fill="#323f9c" stroke="#323f9c" stroke-width="0.1" stroke-linejoin="round">10</text>
<text transform="translate(1373.60 567.80) scale(1.0000 1.0350)" font-family="'Liberation Sans', Arial, Helvetica, sans-serif" font-size="21" font-weight="normal" font-style="normal" text-anchor="start" fill="#323f9c" stroke="#323f9c" stroke-width="0.1" stroke-linejoin="round">4</text>
<text transform="translate(1448.48 578.90) scale(1.0000 1.0350)" font-family="'Liberation Sans', Arial, Helvetica, sans-serif" font-size="34.0" font-weight="normal" font-style="normal" text-anchor="start" fill="#323f9c" stroke="#323f9c" stroke-width="0.1" stroke-linejoin="round">10</text>
<text transform="translate(1484.60 567.80) scale(1.0000 1.0350)" font-family="'Liberation Sans', Arial, Helvetica, sans-serif" font-size="21" font-weight="normal" font-style="normal" text-anchor="start" fill="#323f9c" stroke="#323f9c" stroke-width="0.1" stroke-linejoin="round">5</text>
<rect x="1511.3" y="86.2" width="80.9" height="7.4" fill="#3953a4"/>
<rect x="1511.3" y="129.1" width="80.9" height="7.4" fill="#ed2024"/>
<rect x="1511.3" y="168.6" width="80.9" height="7.4" fill="#000"/>
<rect x="1511.3" y="206.6" width="80.9" height="7.4" fill="#9c2a92"/>
<text transform="translate(1602.91 99.40) scale(1.0000 1.0179)" font-family="'Liberation Sans', Arial, Helvetica, sans-serif" font-size="34.15" font-weight="normal" font-style="normal" text-anchor="start" fill="#000" stroke="#000" stroke-width="0.28" stroke-linejoin="round">pcDNA3.1</text>
<text transform="translate(1602.91 138.60) scale(1.0000 1.0230)" font-family="'Liberation Sans', Arial, Helvetica, sans-serif" font-size="34.15" font-weight="normal" font-style="normal" text-anchor="start" fill="#000" stroke="#000" stroke-width="0.28" stroke-linejoin="round">pcDNA3.1-H19</text>
<text transform="translate(1602.91 179.00) scale(1.0000 0.9950)" font-family="'Liberation Sans', Arial, Helvetica, sans-serif" font-size="34.15" font-weight="normal" font-style="normal" text-anchor="start" fill="#000" stroke="#000" stroke-width="0.28" stroke-linejoin="round">pcDNA3.1+curcumin</text>
<text transform="translate(1602.91 218.90) scale(1.0000 1.0017)" font-family="'Liberation Sans', Arial, Helvetica, sans-serif" font-size="34.15" font-weight="normal" font-style="normal" text-anchor="start" fill="#000" stroke="#000" stroke-width="0.28" stroke-linejoin="round">pcDNA3.1-H19+curcumin</text>
<text transform="translate(156.20 698.80) scale(0.9500 1.0000)" font-family="'Liberation Serif', 'Times New Roman', Times, serif" font-size="42.5" font-weight="bold" font-style="normal" text-anchor="start" fill="#000">C</text>
<line x1="265.10" y1="714.80" x2="265.10" y2="1222.00" stroke="#000" stroke-width="2.3" stroke-linecap="butt"/>
<line x1="257.60" y1="1220.90" x2="685.20" y2="1220.90" stroke="#000" stroke-width="2.3" stroke-linecap="butt"/>
<line x1="257.60" y1="1220.90" x2="265.10" y2="1220.90" stroke="#000" stroke-width="2.3" stroke-linecap="butt"/>
<text transform="translate(248.03 1231.80) scale(1.0000 1.0350)" font-family="'Liberation Sans', Arial, Helvetica, sans-serif" font-size="34.0" font-weight="normal" font-style="normal" text-anchor="end" fill="#000" stroke="#000" stroke-width="0.28" stroke-linejoin="round">0</text>
<line x1="257.60" y1="1157.78" x2="265.10" y2="1157.78" stroke="#000" stroke-width="2.3" stroke-linecap="butt"/>
<text transform="translate(248.03 1168.68) scale(1.0000 1.0350)" font-family="'Liberation Sans', Arial, Helvetica, sans-serif" font-size="34.0" font-weight="normal" font-style="normal" text-anchor="end" fill="#000" stroke="#000" stroke-width="0.28" stroke-linejoin="round">1</text>
<line x1="257.60" y1="1094.65" x2="265.10" y2="1094.65" stroke="#000" stroke-width="2.3" stroke-linecap="butt"/>
<text transform="translate(248.03 1105.55) scale(1.0000 1.0350)" font-family="'Liberation Sans', Arial, Helvetica, sans-serif" font-size="34.0" font-weight="normal" font-style="normal" text-anchor="end" fill="#000" stroke="#000" stroke-width="0.28" stroke-linejoin="round">2</text>
<line x1="257.60" y1="1031.53" x2="265.10" y2="1031.53" stroke="#000" stroke-width="2.3" stroke-linecap="butt"/>
<text transform="translate(248.03 1042.43) scale(1.0000 1.0350)" font-family="'Liberation Sans', Arial, Helvetica, sans-serif" font-size="34.0" font-weight="normal" font-style="normal" text-anchor="end" fill="#000" stroke="#000" stroke-width="0.28" stroke-linejoin="round">3</text>
<line x1="257.60" y1="968.40" x2="265.10" y2="968.40" stroke="#000" stroke-width="2.3" stroke-linecap="butt"/>
<text transform="translate(248.03 979.30) scale(1.0000 1.0350)" font-family="'Liberation Sans', Arial, Helvetica, sans-serif" font-size="34.0" font-weight="normal" font-style="normal" text-anchor="end" fill="#000" stroke="#000" stroke-width="0.28" stroke-linejoin="round">4</text>
<line x1="257.60" y1="905.28" x2="265.10" y2="905.28" stroke="#000" stroke-width="2.3" stroke-linecap="butt"/>
<text transform="translate(248.03 916.18) scale(1.0000 1.0350)" font-family="'Liberation Sans', Arial, Helvetica, sans-serif" font-size="34.0" font-weight="normal" font-style="normal" text-anchor="end" fill="#000" stroke="#000" stroke-width="0.28" stroke-linejoin="round">5</text>
<line x1="257.60" y1="842.15" x2="265.10" y2="842.15" stroke="#000" stroke-width="2.3" stroke-linecap="butt"/>
<text transform="translate(248.03 853.05) scale(1.0000 1.0350)" font-family="'Liberation Sans', Arial, Helvetica, sans-serif" font-size="34.0" font-weight="normal" font-style="normal" text-anchor="end" fill="#000" stroke="#000" stroke-width="0.28" stroke-linejoin="round">6</text>
<line x1="257.60" y1="779.02" x2="265.10" y2="779.02" stroke="#000" stroke-width="2.3" stroke-linecap="butt"/>
<text transform="translate(248.03 789.92) scale(1.0000 1.0350)" font-family="'Liberation Sans', Arial, Helvetica, sans-serif" font-size="34.0" font-weight="normal" font-style="normal" text-anchor="end" fill="#000" stroke="#000" stroke-width="0.28" stroke-linejoin="round">7</text>
<line x1="257.60" y1="715.90" x2="265.10" y2="715.90" stroke="#000" stroke-width="2.3" stroke-linecap="butt"/>
<text transform="translate(248.03 726.80) scale(1.0000 1.0350)" font-family="'Liberation Sans', Arial, Helvetica, sans-serif" font-size="34.0" font-weight="normal" font-style="normal" text-anchor="end" fill="#000" stroke="#000" stroke-width="0.28" stroke-linejoin="round">8</text>
<line x1="369.30" y1="1220.90" x2="369.30" y2="1228.90" stroke="#000" stroke-width="2.3" stroke-linecap="butt"/>
<line x1="579.40" y1="1220.90" x2="579.40" y2="1228.90" stroke="#000" stroke-width="2.3" stroke-linecap="butt"/>
<text transform="translate(200.20 968.00) rotate(-90) scale(1.0000 0.9864)" font-family="'Liberation Sans', Arial, Helvetica, sans-serif" font-size="34.2" font-weight="normal" font-style="normal" text-anchor="middle" fill="#000" stroke="#000" stroke-width="0.28" stroke-linejoin="round">Relative H19 expression</text>
<rect x="288.2" y="733.3" width="28.8" height="32.3" rx="0.8" fill="#acaeb0" stroke="#000" stroke-width="2.2"/>
<rect x="288.2" y="780.5" width="28.8" height="32.5" rx="0.8" fill="#0a0a0a" stroke="#000" stroke-width="2.2"/>
<text transform="translate(334.64 763.30) scale(1.0000 1.0150)" font-family="'Liberation Sans', Arial, Helvetica, sans-serif" font-size="34.0" font-weight="normal" font-style="normal" text-anchor="start" fill="#000" stroke="#000" stroke-width="0.28" stroke-linejoin="round">0 <tspan font-family="'Liberation Serif', 'Times New Roman', Times, serif">μ</tspan>M</text>
<text transform="translate(334.64 807.90) scale(1.0000 1.0200)" font-family="'Liberation Sans', Arial, Helvetica, sans-serif" font-size="34.0" font-weight="normal" font-style="normal" text-anchor="start" fill="#000" stroke="#000" stroke-width="0.28" stroke-linejoin="round">50 <tspan font-family="'Liberation Serif', 'Times New Roman', Times, serif">μ</tspan>M</text>
<line x1="330.65" y1="1148.90" x2="330.65" y2="1155.80" stroke="#000" stroke-width="2.3" stroke-linecap="butt"/>
<line x1="316.90" y1="1148.90" x2="344.90" y2="1148.90" stroke="#000" stroke-width="2.5" stroke-linecap="butt"/>
<rect x="304.4" y="1157.0" width="52.4" height="63.9" fill="#acaeb0" stroke="#000" stroke-width="2.5"/>
<line x1="409.25" y1="1196.50" x2="409.25" y2="1200.30" stroke="#000" stroke-width="2.3" stroke-linecap="butt"/>
<line x1="395.90" y1="1196.50" x2="423.10" y2="1196.50" stroke="#000" stroke-width="2.5" stroke-linecap="butt"/>
<rect x="383.0" y="1201.5" width="52.8" height="19.4" fill="#0a0a0a" stroke="#000" stroke-width="2.5"/>
<line x1="540.65" y1="778.60" x2="540.65" y2="822.60" stroke="#000" stroke-width="2.3" stroke-linecap="butt"/>
<line x1="527.20" y1="778.60" x2="554.60" y2="778.60" stroke="#000" stroke-width="2.5" stroke-linecap="butt"/>
<rect x="514.6" y="823.8" width="51.3" height="397.1" fill="#acaeb0" stroke="#000" stroke-width="2.5"/>
<line x1="619.40" y1="955.40" x2="619.40" y2="979.80" stroke="#000" stroke-width="2.3" stroke-linecap="butt"/>
<line x1="606.00" y1="955.40" x2="633.30" y2="955.40" stroke="#000" stroke-width="2.5" stroke-linecap="butt"/>
<rect x="593.5" y="981.0" width="51.8" height="239.9" fill="#0a0a0a" stroke="#000" stroke-width="2.5"/>
<line x1="257.60" y1="1220.90" x2="685.20" y2="1220.90" stroke="#000" stroke-width="2.3" stroke-linecap="butt"/>
<text transform="translate(293.21 1264.00) scale(1.0000 1.0179)" font-family="'Liberation Sans', Arial, Helvetica, sans-serif" font-size="34.1" font-weight="normal" font-style="normal" text-anchor="start" fill="#000" stroke="#000" stroke-width="0.28" stroke-linejoin="round">pcDNA3.1</text>
<text transform="translate(484.51 1264.00) scale(1.0000 1.0230)" font-family="'Liberation Sans', Arial, Helvetica, sans-serif" font-size="34.1" font-weight="normal" font-style="normal" text-anchor="start" fill="#000" stroke="#000" stroke-width="0.28" stroke-linejoin="round">pcDNA3.1-H19</text>
<text transform="translate(882.00 854.60) scale(0.9500 1.0000)" font-family="'Liberation Serif', 'Times New Roman', Times, serif" font-size="42.5" font-weight="bold" font-style="normal" text-anchor="start" fill="#000">D</text>
<line x1="1064.10" y1="969.80" x2="1251.70" y2="969.80" stroke="#222" stroke-width="1.5" stroke-linecap="butt"/>
<line x1="1281.50" y1="969.80" x2="1469.40" y2="969.80" stroke="#222" stroke-width="1.5" stroke-linecap="butt"/>
<text transform="translate(1153.60 954.40) rotate(-45) scale(1.0000 1.0179)" font-family="'Liberation Sans', Arial, Helvetica, sans-serif" font-size="34.3" font-weight="normal" font-style="normal" text-anchor="start" fill="#000" stroke="#000" stroke-width="0.28" stroke-linejoin="round">pcDNA3.1</text>
<text transform="translate(1352.60 954.40) rotate(-45) scale(1.0000 1.0230)" font-family="'Liberation Sans', Arial, Helvetica, sans-serif" font-size="34.3" font-weight="normal" font-style="normal" text-anchor="start" fill="#000" stroke="#000" stroke-width="0.28" stroke-linejoin="round">pcDNA3.1-H19</text>
<text transform="translate(893.39 1028.00) scale(1.0000 0.9825)" font-family="'Liberation Sans', Arial, Helvetica, sans-serif" font-size="33.8" font-weight="normal" font-style="normal" text-anchor="start" fill="#000" stroke="#000" stroke-width="0.28" stroke-linejoin="round">Curcumin</text>
<text transform="translate(1113.30 1024.80) scale(1.0000 0.9750)" font-family="'Liberation Sans', Arial, Helvetica, sans-serif" font-size="34.1" font-weight="bold" font-style="normal" text-anchor="middle" fill="#000" stroke="#000" stroke-width="0.2" stroke-linejoin="round">-</text>
<text transform="translate(1218.50 1026.40) scale(1.0000 0.9750)" font-family="'Liberation Sans', Arial, Helvetica, sans-serif" font-size="34.1" font-weight="normal" font-style="normal" text-anchor="middle" fill="#000" stroke="#000" stroke-width="0.7" stroke-linejoin="round">+</text>
<text transform="translate(1329.20 1024.80) scale(1.0000 0.9750)" font-family="'Liberation Sans', Arial, Helvetica, sans-serif" font-size="34.1" font-weight="bold" font-style="normal" text-anchor="middle" fill="#000" stroke="#000" stroke-width="0.2" stroke-linejoin="round">-</text>
<text transform="translate(1433.50 1026.40) scale(1.0000 0.9750)" font-family="'Liberation Sans', Arial, Helvetica, sans-serif" font-size="34.1" font-weight="normal" font-style="normal" text-anchor="middle" fill="#000" stroke="#000" stroke-width="0.7" stroke-linejoin="round">+</text>
<text transform="translate(980.10 1133.30) scale(1.0000 1.0150)" font-family="'Liberation Sans', Arial, Helvetica, sans-serif" font-size="34.3" font-weight="normal" font-style="normal" text-anchor="start" fill="#000" stroke="#000" stroke-width="0.28" stroke-linejoin="round">p53</text>
<text transform="translate(940.05 1225.50) scale(1.0000 0.9750)" font-family="'Liberation Sans', Arial, Helvetica, sans-serif" font-size="34.2" font-weight="normal" font-style="normal" text-anchor="start" fill="#000" stroke="#000" stroke-width="0.28" stroke-linejoin="round"><tspan font-family="'Liberation Serif', 'Times New Roman', Times, serif">β</tspan>-actin</text>
<defs><filter id="b1" filterUnits="userSpaceOnUse" x="1040" y="1040" width="480" height="230"><feGaussianBlur stdDeviation="2.0"/></filter><filter id="b2" filterUnits="userSpaceOnUse" x="1040" y="1040" width="480" height="230"><feGaussianBlur stdDeviation="2.6"/></filter><filter id="b3" filterUnits="userSpaceOnUse" x="1040" y="1040" width="480" height="230"><feGaussianBlur stdDeviation="3"/></filter><clipPath id="c1"><rect x="1062" y="1066" width="1429" height="73"/></clipPath></defs>
<rect x="1062.9" y="1066.3" width="427.4" height="73.0" fill="#fdfdfd" stroke="#000" stroke-width="2.2"/>
<rect x="1062.9" y="1173.7" width="427.4" height="72.4" fill="#fbfbfb" stroke="#000" stroke-width="2.2"/>
<rect x="1083.5" y="1093.1" width="69.5" height="10.8" rx="5.4" fill="#6c6c6c" opacity="1.0" filter="url(#b2)"/>
<rect x="1084.0" y="1094.0" width="18.0" height="8.0" rx="4.0" fill="#4a4a4a" opacity="0.7" filter="url(#b2)"/>
<rect x="1134.0" y="1095.0" width="18.0" height="8.0" rx="4.0" fill="#555" opacity="0.6" filter="url(#b2)"/>
<rect x="1188.2" y="1093.3" width="83.4" height="16.6" rx="8" fill="#050505" transform="rotate(1.3 1230 1101.5)" filter="url(#b1)"/>
<rect x="1303.5" y="1095.2" width="64.0" height="10.8" rx="5.4" fill="#727272" opacity="1.0" filter="url(#b2)"/>
<rect x="1304.0" y="1096.4" width="18.0" height="8.0" rx="4.0" fill="#4a4a4a" opacity="0.7" filter="url(#b2)"/>
<rect x="1348.0" y="1096.8" width="18.0" height="8.0" rx="4.0" fill="#666" opacity="0.5" filter="url(#b2)"/>
<rect x="1407.0" y="1096.9" width="65.5" height="10.8" rx="5.4" fill="#767676" opacity="1.0" filter="url(#b2)"/>
<rect x="1409.0" y="1098.0" width="20.0" height="8.0" rx="4.0" fill="#5a5a5a" opacity="0.6" filter="url(#b2)"/>
<rect x="1451.0" y="1098.8" width="20.0" height="8.0" rx="4.0" fill="#555" opacity="0.6" filter="url(#b2)"/>
<rect x="1077" y="1178" width="76" height="22" fill="#d9dadb" opacity="0.75" filter="url(#b3)"/>
<rect x="1187" y="1178" width="73" height="22" fill="#d9dadb" opacity="0.75" filter="url(#b3)"/>
<rect x="1290" y="1178" width="78" height="22" fill="#d9dadb" opacity="0.75" filter="url(#b3)"/>
<rect x="1400" y="1178" width="74" height="22" fill="#d9dadb" opacity="0.75" filter="url(#b3)"/>
<rect x="1070.8" y="1200.4" width="90.0" height="21.0" rx="10.5" fill="#050505" opacity="1.0" filter="url(#b1)"/>
<rect x="1178.4" y="1200.1" width="88.8" height="21.0" rx="10.5" fill="#050505" opacity="1.0" filter="url(#b1)"/>
<rect x="1283.3" y="1200.8" width="90.3" height="21.0" rx="10.5" fill="#050505" opacity="1.0" filter="url(#b1)"/>
<rect x="1390.2" y="1200.0" width="92.0" height="21.0" rx="10.5" fill="#050505" opacity="1.0" filter="url(#b1)"/>
<rect x="1062.9" y="1066.3" width="427.4" height="73.0" fill="none" stroke="#000" stroke-width="2.2"/>
<rect x="1062.9" y="1173.7" width="427.4" height="72.4" fill="none" stroke="#000" stroke-width="2.2"/>
</g>
</svg>
</body>
</html>
